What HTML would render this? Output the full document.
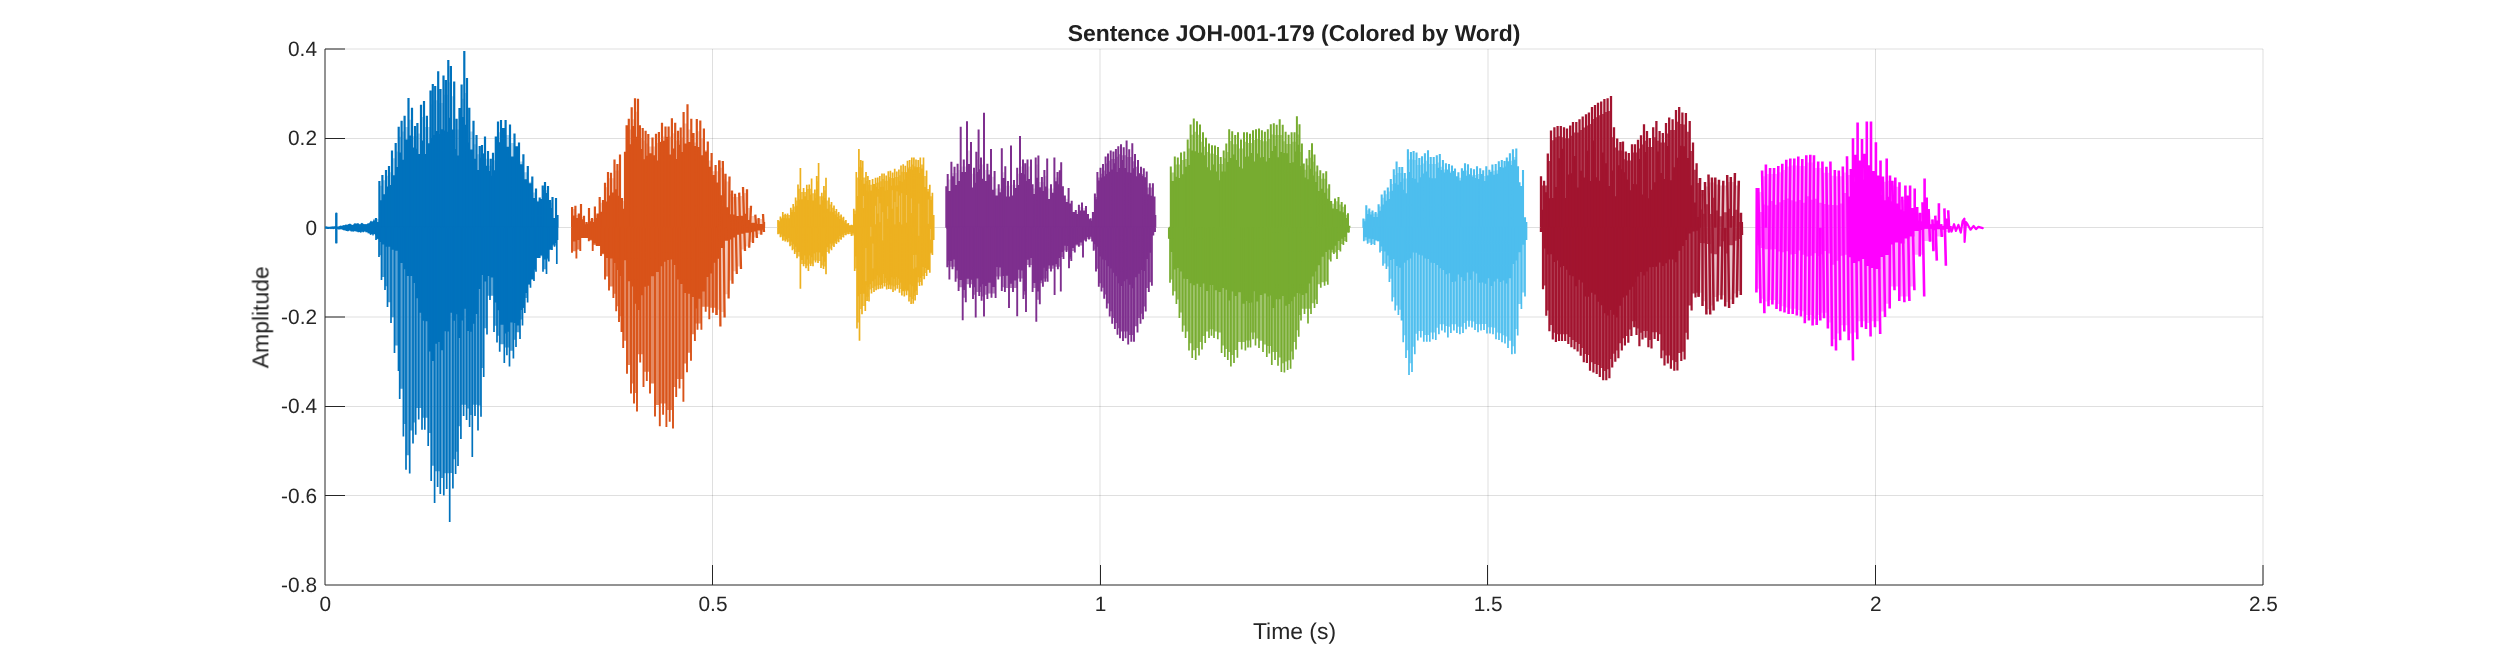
<!DOCTYPE html><html><head><meta charset="utf-8"><title>Sentence JOH-001-179 (Colored by Word)</title><style>html,body{margin:0;padding:0;background:#fff;}svg{display:block;}</style></head><body><svg width="2500" height="657" viewBox="0 0 2500 657">
<rect width="2500" height="657" fill="#fff"/>
<path d="M712.5 49V585M1100 49V585M1488 49V585M1875.5 49V585M2263 49V585M325 49H2263M325 138.5H2263M325 227.5H2263M325 317H2263M325 406.5H2263M325 495.5H2263" stroke="#262626" stroke-opacity="0.15" stroke-width="1" fill="none"/>
<path d="M325 49V585H2263" stroke="#262626" stroke-width="1" fill="none"/>
<path d="M712.5 585V565M1100.5 585V565M1487.5 585V565M1875.5 585V565M2263 585V565M325 49H345M325 138.5H345M325 227.5H345M325 317H345M325 406.5H345M325 495.5H345" stroke="#262626" stroke-width="1" fill="none"/>
<g>
<polygon fill="#0072BD" points="325,226.5 326,226.3 327,226.4 328,226.7 329,226.7 330,226.7 331,226.5 332,226.6 333,226.3 334,226.4 335,226.1 336,226.2 337,226.6 338,226.4 339,226.3 340,225.7 341,225.6 342,226 343,225.1 344,225.3 345,225 346,224.3 347,224.9 348,224.3 349,223.9 350,223.4 351,224.3 352,224.7 353,224.9 354,223.5 355,223.2 356,223.5 357,223.6 358,223.1 359,223.7 360,224.5 361,223.2 362,222.8 363,223.6 364,224.3 365,224 366,224.2 367,223.9 368,222.9 369,223.4 370,221.7 371,220.4 372,221.7 373,221.1 374,218.5 375,221 376,220.4 377,218.5 377,235.5 376,236 375,234.6 374,234 373,236.2 372,234.1 371,235.1 370,234.7 369,233 368,233.7 367,231.8 366,232.8 365,231.3 364,232 363,232.4 362,231.5 361,232.9 360,232.2 359,232.1 358,232.5 357,231.5 356,231.7 355,231.1 354,231.6 353,231.7 352,231.3 351,231.7 350,230.5 349,230.7 348,231.6 347,231 346,230.9 345,230.2 344,230.4 343,230 342,229.6 341,229.3 340,229.4 339,229.4 338,229.4 337,228.8 336,228.9 335,228.7 334,228.9 333,229.3 332,228.8 331,229.2 330,228.7 329,229 328,229 327,228.9 326,228.7 325,228.8"/>
<path d="M336.3 213.6V242.4" stroke="#0072BD" stroke-width="2.4" stroke-linecap="round" fill="none"/>
<g><polygon fill="#0072BD" fill-opacity="0.3" points="376,227.7 376,219 379.4,219 379.4,185.7 382.4,185.7 382.4,180.3 386,180.3 386,175.8 389,175.8 389,172.2 392,172.2 392,158.2 395.7,158.2 395.7,151.5 398.7,151.5 398.7,136.8 401.6,136.8 401.6,131.5 404.6,131.5 404.6,126.9 408.5,126.9 408.5,119.7 412,119.7 412,136.2 415,136.2 415,136.2 417.4,136.2 417.4,133.5 421,133.5 421,117 424,117 424,126.9 426.9,126.9 426.9,126.9 430.5,126.9 430.5,104.2 432.8,104.2 432.8,100.2 435.2,100.2 435.2,100.2 438.2,100.2 438.2,102.9 440.5,102.9 440.5,102.9 443.5,102.9 443.5,94.8 445.9,94.8 445.9,94.8 448.3,94.8 448.3,82.2 450.9,82.2 450.9,96.2 454.2,96.2 454.2,129.6 456.6,129.6 456.6,129.6 459.5,129.6 459.5,120 461.6,120 461.6,98.8 464.3,98.8 464.3,93 467,93 467,119.7 469.3,119.7 469.3,131.5 473.5,131.5 473.5,144.3 476.5,144.3 476.5,154.2 479.7,154.2 479.7,154.2 482,154.2 482,153.3 485,153.3 485,158.7 488,158.7 488,165.7 490.7,165.7 490.7,165.7 493,165.7 493,160.3 495.8,160.3 495.8,145.6 498,145.6 498,132.2 501,132.2 501,130.8 505.6,130.8 505.6,134.9 510,134.9 510,142.9 514.5,142.9 514.5,150.9 519,150.9 519,161.6 523.4,161.6 523.4,172.2 527.8,172.2 527.8,181.7 532.3,181.7 532.3,192.4 536,192.4 536,200.4 539.7,200.4 539.7,200.4 542.7,200.4 542.7,189.7 545,189.7 545,190.2 548,190.2 548,202.8 550,202.8 550,202.8 552.5,202.8 552.5,219 554.6,219 554.6,219 556,219 556,216.3 557.5,216.3 557.5,227.7"/><polygon fill="#0072BD" points="376,228.7 376,222.1 379.4,222.1 379.4,200.3 382.4,200.3 382.4,194.3 386,194.3 386,186.5 389,186.5 389,185.1 392,185.1 392,175.2 395.7,175.2 395.7,167 398.7,167 398.7,152.6 401.6,152.6 401.6,159.8 404.6,159.8 404.6,139.6 408.5,139.6 408.5,135.5 412,135.5 412,147.6 415,147.6 415,148.8 417.4,148.8 417.4,153.9 421,153.9 421,140.6 424,140.6 424,154.1 426.9,154.1 426.9,143.2 430.5,143.2 430.5,138.1 432.8,138.1 432.8,134.9 435.2,134.9 435.2,131 438.2,131 438.2,134 440.5,134 440.5,129.3 443.5,129.3 443.5,130.4 445.9,130.4 445.9,131.7 448.3,131.7 448.3,117.8 450.9,117.8 450.9,129.5 454.2,129.5 454.2,149 456.6,149 456.6,155.6 459.5,155.6 459.5,129.6 461.6,129.6 461.6,117 464.3,117 464.3,124.7 467,124.7 467,142.6 469.3,142.6 469.3,149.5 473.5,149.5 473.5,158.7 476.5,158.7 476.5,170.1 479.7,170.1 479.7,157.8 482,157.8 482,153.5 485,153.5 485,165.8 488,165.8 488,170.9 490.7,170.9 490.7,175.8 493,175.8 493,170.2 495.8,170.2 495.8,152.8 498,152.8 498,142.2 501,142.2 501,128 505.6,128 505.6,146.7 510,146.7 510,156.4 514.5,156.4 514.5,146.3 519,146.3 519,164.2 523.4,164.2 523.4,179.2 527.8,179.2 527.8,183.2 532.3,183.2 532.3,197.9 536,197.9 536,201.4 539.7,201.4 539.7,198.9 542.7,198.9 542.7,190 545,190 545,193.1 548,193.1 548,207.8 550,207.8 550,207.9 552.5,207.9 552.5,221.4 554.6,221.4 554.6,220.5 556,220.5 556,219 557.5,219 557.5,228.7"/><path fill="none" stroke="#0072BD" stroke-width="2.2" d="M376 227.7V218M379.4 227.7V181M382.4 227.7V175M386 227.7V170M389 227.7V166M392 227.7V150.5M395.7 227.7V143M398.7 227.7V126.7M401.6 227.7V120.8M404.6 227.7V115.7M408.5 227.7V97.9M412 227.7V107.7M415 227.7V126M417.4 227.7V123M421 227.7V104.7M424 227.7V100.9M426.9 227.7V115.7M430.5 227.7V90.5M432.8 227.7V84M435.2 227.7V86M438.2 227.7V71.2M440.5 227.7V89M443.5 227.7V75.6M445.9 227.7V80M448.3 227.7V59.9M450.9 227.7V66M454.2 227.7V81.6M456.6 227.7V118.7M459.5 227.7V108M461.6 227.7V84.5M464.3 227.7V51M467 227.7V78M469.3 227.7V107.7M473.5 227.7V120.8M476.5 227.7V135M479.7 227.7V146M482 227.7V145M485 227.7V136.5M488 227.7V151M490.7 227.7V158.8M493 227.7V152.8M495.8 227.7V136.5M498 227.7V121.6M501 227.7V120M505.6 227.7V120M510 227.7V124.6M514.5 227.7V133.5M519 227.7V142.4M523.4 227.7V154.3M527.8 227.7V166M532.3 227.7V176.6M536 227.7V188.5M539.7 227.7V197.4M542.7 227.7V185.5M545 227.7V182M548 227.7V186M550 227.7V200M552.5 227.7V197M554.6 227.7V218M556 227.7V198M557.5 227.7V215"/><polygon fill="#0072BD" fill-opacity="0.66" points="376,227.7 376,239.3 379,239.3 379,255.2 381.5,255.2 381.5,276.9 385,276.9 385,286.3 387.5,286.3 387.5,302.2 391,302.2 391,317.3 394.5,317.3 394.5,345.5 398.5,345.5 398.5,362.4 399.7,362.4 399.7,388.7 403.4,388.7 403.4,424.1 406,424.1 406,455.2 409.7,455.2 409.7,430.6 413,430.6 413,422.4 415.7,422.4 415.7,408 418.7,408 418.7,408 422,408 422,417.7 424.8,417.7 424.8,417.7 428.2,417.7 428.2,432.9 431.2,432.9 431.2,465.8 434.6,465.8 434.6,471.3 437.6,471.3 437.6,471.3 440.3,471.3 440.3,478 443.8,478 443.8,473.3 446.7,473.3 446.7,473.3 449.7,473.3 449.7,472.9 452.9,472.9 452.9,459.2 455.6,459.2 455.6,451.7 458,451.7 458,426.3 460.9,426.3 460.9,404.7 463.6,404.7 463.6,404.7 466.6,404.7 466.6,408.5 469.6,408.5 469.6,415 472.3,415 472.3,404.7 475,404.7 475,404.7 478,404.7 478,405.5 481,405.5 481,368 483.7,368 483.7,328.2 487,328.2 487,295.7 490,295.7 490,295.7 494,295.7 494,325.7 497,325.7 497,335.7 499.7,335.7 499.7,344.3 504.3,344.3 504.3,347.6 506.9,347.6 506.9,347.6 509.5,347.6 509.5,350.7 513.4,350.7 513.4,339.8 516,339.8 516,332.3 520,332.3 520,319.6 522.5,319.6 522.5,307.9 524.8,307.9 524.8,298.1 527.6,298.1 527.6,284.2 530.5,284.2 530.5,277.8 534,277.8 534,269.2 536,269.2 536,256.2 539.7,256.2 539.7,256.2 543,256.2 543,269.2 546.5,269.2 546.5,259.5 548.8,259.5 548.8,248.7 552,248.7 552,245.6 554.5,245.6 554.5,245.6 556.8,245.6 556.8,239.3 557.5,239.3 557.5,227.7"/><polygon fill="#0072BD" points="376,226.7 376,238.7 379,238.7 379,242 381.5,242 381.5,244.5 385,244.5 385,246.7 387.5,246.7 387.5,246.7 391,246.7 391,249.7 394.5,249.7 394.5,250.7 398.5,250.7 398.5,253.9 399.7,253.9 399.7,262.9 403.4,262.9 403.4,269.3 406,269.3 406,276.1 409.7,276.1 409.7,276 413,276 413,283.1 415.7,283.1 415.7,298.2 418.7,298.2 418.7,312.8 422,312.8 422,320.7 424.8,320.7 424.8,321.3 428.2,321.3 428.2,351.6 431.2,351.6 431.2,361 434.6,361 434.6,343.7 437.6,343.7 437.6,341.9 440.3,341.9 440.3,350.3 443.8,350.3 443.8,331.3 446.7,331.3 446.7,331.6 449.7,331.6 449.7,312.7 452.9,312.7 452.9,320.7 455.6,320.7 455.6,314.3 458,314.3 458,338.1 460.9,338.1 460.9,320.6 463.6,320.6 463.6,308.7 466.6,308.7 466.6,331.1 469.6,331.1 469.6,331.8 472.3,331.8 472.3,323.8 475,323.8 475,313.9 478,313.9 478,289.1 481,289.1 481,275 483.7,275 483.7,281.6 487,281.6 487,276.1 490,276.1 490,277.5 494,277.5 494,302.6 497,302.6 497,310.3 499.7,310.3 499.7,324.8 504.3,324.8 504.3,333.5 506.9,333.5 506.9,331.7 509.5,331.7 509.5,322.6 513.4,322.6 513.4,323 516,323 516,325.5 520,325.5 520,310.1 522.5,310.1 522.5,307.8 524.8,307.8 524.8,293 527.6,293 527.6,284.6 530.5,284.6 530.5,279.6 534,279.6 534,269.4 536,269.4 536,258 539.7,258 539.7,255 543,255 543,259.5 546.5,259.5 546.5,258.2 548.8,258.2 548.8,249.8 552,249.8 552,244.5 554.5,244.5 554.5,242.9 556.8,242.9 556.8,240 557.5,240 557.5,226.7"/><path fill="none" stroke="#0072BD" stroke-width="1.7" d="M376 227.7V240M379 227.7V257M381.5 227.7V280M385 227.7V290M387.5 227.7V307M391 227.7V323M394.5 227.7V353M398.5 227.7V371M399.7 227.7V399M403.4 227.7V436.6M406 227.7V469.7M409.7 227.7V473.6M413 227.7V443.5M415.7 227.7V434.8M418.7 227.7V419.5M422 227.7V429.8M424.8 227.7V429.8M428.2 227.7V446M431.2 227.7V481M434.6 227.7V503M437.6 227.7V486.9M440.3 227.7V494M443.8 227.7V495.5M446.7 227.7V489M449.7 227.7V522M452.9 227.7V488.5M455.6 227.7V474M458 227.7V466M460.9 227.7V439M463.6 227.7V416M466.6 227.7V420M469.6 227.7V427M472.3 227.7V457M475 227.7V416M478 227.7V430.5M481 227.7V416.8M483.7 227.7V377M487 227.7V334.6M490 227.7V300M494 227.7V332M497 227.7V342.6M499.7 227.7V351.7M504.3 227.7V363M506.9 227.7V355.2M509.5 227.7V366.5M513.4 227.7V358.6M516 227.7V347M520 227.7V339M522.5 227.7V325.5M524.8 227.7V313M527.6 227.7V302.6M530.5 227.7V287.8M534 227.7V281M536 227.7V271.8M539.7 227.7V258M543 227.7V271.8M546.5 227.7V274M548.8 227.7V261.5M552 227.7V250M554.5 227.7V246.7M556.8 227.7V264M557.5 227.7V240"/></g>
<g><polygon fill="#D95319" fill-opacity="0.3" points="572.1,227.7 572.1,209.1 575.4,209.1 575.4,215 578.8,215 578.8,215 581,215 581,217 584,217 584,222.6 586.5,222.6 586.5,222.6 589,222.6 589,219 592,219 592,219 594.9,219 594.9,215 597.5,215 597.5,215 599.7,215 599.7,202.8 603,202.8 603,202.8 605,202.8 605,187.2 608,187.2 608,178.2 611,178.2 611,178.2 614.5,178.2 614.5,170.4 617.4,170.4 617.4,170.4 620,170.4 620,201 622,201 622,201 625,201 625,159.4 626.6,159.4 626.6,135.5 628.8,135.5 628.8,129.6 631.7,129.6 631.7,119.2 635,119.2 635,111.7 638,111.7 638,135.5 639.9,135.5 639.9,138 642.7,138 642.7,140.5 645.6,140.5 645.6,143.4 648.3,143.4 648.3,146.4 652.5,146.4 652.5,146.4 656,146.4 656,143.1 658.9,143.1 658.9,141.6 662,141.6 662,136.5 665.5,136.5 665.5,136.5 668.6,136.5 668.6,136.5 671.9,136.5 671.9,133.2 675.2,133.2 675.2,140.5 678,140.5 678,140.5 680.7,140.5 680.7,137.5 683.6,137.5 683.6,123.6 687.5,123.6 687.5,129.6 691.3,129.6 691.3,142.5 693.5,142.5 693.5,142.5 696.8,142.5 696.8,131.2 700.3,131.2 700.3,138.5 703.9,138.5 703.9,150 707.8,150 707.8,160.4 711.6,160.4 711.6,171.3 715.6,171.3 715.6,171.3 719.3,171.3 719.3,227.7"/><polygon fill="#D95319" points="572.1,228.7 572.1,215.4 575.4,215.4 575.4,218 578.8,218 578.8,217.8 581,217.8 581,219.2 584,219.2 584,224.3 586.5,224.3 586.5,223.8 589,223.8 589,221.3 592,221.3 592,222.1 594.9,222.1 594.9,218 597.5,218 597.5,217.9 599.7,217.9 599.7,211.8 603,211.8 603,209 605,209 605,201.5 608,201.5 608,195.6 611,195.6 611,192.5 614.5,192.5 614.5,189.2 617.4,189.2 617.4,195.8 620,195.8 620,212 622,212 622,208.8 625,208.8 625,170.3 626.6,170.3 626.6,151.8 628.8,151.8 628.8,144.3 631.7,144.3 631.7,125.9 635,125.9 635,136.7 638,136.7 638,144.6 639.9,144.6 639.9,149 642.7,149 642.7,159.3 645.6,159.3 645.6,155.8 648.3,155.8 648.3,153.2 652.5,153.2 652.5,155.2 656,155.2 656,160.5 658.9,160.5 658.9,141.9 662,141.9 662,140.8 665.5,140.8 665.5,137.1 668.6,137.1 668.6,154.5 671.9,154.5 671.9,148.5 675.2,148.5 675.2,158.9 678,158.9 678,144.7 680.7,144.7 680.7,152 683.6,152 683.6,143.5 687.5,143.5 687.5,142.1 691.3,142.1 691.3,144.1 693.5,144.1 693.5,145.9 696.8,145.9 696.8,147 700.3,147 700.3,155.2 703.9,155.2 703.9,151.4 707.8,151.4 707.8,166.7 711.6,166.7 711.6,175 715.6,175 715.6,182.6 719.3,182.6 719.3,228.7"/><path fill="none" stroke="#D95319" stroke-width="2.2" d="M572.1 227.7V207M575.4 227.7V205.8M578.8 227.7V213.6M581 227.7V204M584 227.7V215.8M586.5 227.7V222M589 227.7V208M592 227.7V218M594.9 227.7V206.5M597.5 227.7V213.6M599.7 227.7V197M603 227.7V200M605 227.7V182.7M608 227.7V172M611 227.7V172.7M614.5 227.7V159.5M617.4 227.7V164M620 227.7V154.4M622 227.7V198M625 227.7V151.8M626.6 227.7V125.3M628.8 227.7V118.7M631.7 227.7V107.2M635 227.7V98.2M638 227.7V98.8M639.9 227.7V125.3M642.7 227.7V128M645.6 227.7V130.8M648.3 227.7V134M652.5 227.7V137.4M656 227.7V133.7M658.9 227.7V132M662 227.7V122.7M665.5 227.7V126.4M668.6 227.7V126.4M671.9 227.7V118.2M675.2 227.7V122.7M678 227.7V130.8M680.7 227.7V127.5M683.6 227.7V112M687.5 227.7V104.3M691.3 227.7V118.7M693.5 227.7V133M696.8 227.7V119M700.3 227.7V120.5M703.9 227.7V128.6M707.8 227.7V141.4M711.6 227.7V152.9M715.6 227.7V165M719.3 227.7V160.6"/><polygon fill="#D95319" fill-opacity="0.68" points="572,227.7 572,251.2 576.4,251.2 576.4,249.6 580.3,249.6 580.3,237.4 584.5,237.4 584.5,237.4 588.8,237.4 588.8,240.5 592.7,240.5 592.7,244.9 596.7,244.9 596.7,244.9 601,244.9 601,254.3 605,254.3 605,276.5 609,276.5 609,286.6 613.4,286.6 613.4,293.8 616.2,293.8 616.2,306.2 619,306.2 619,316.3 621.5,316.3 621.5,257.1 622.3,257.1 622.3,257.1 623.2,257.1 623.2,340.8 627,340.8 627,365 631,365 631,383.6 634,383.6 634,392.9 637,392.9 637,354.3 640.2,354.3 640.2,354.3 643.5,354.3 643.5,371.7 646.8,371.7 646.8,371.7 650,371.7 650,383.6 655,383.6 655,405.1 659.8,405.1 659.8,403.6 663.1,403.6 663.1,403.6 666.4,403.6 666.4,410 669.7,410 669.7,410 673,410 673,386.9 676.2,386.9 676.2,378.9 679.5,378.9 679.5,378.9 683.4,378.9 683.4,363.5 687,363.5 687,352.8 691,352.8 691,334.2 694.9,334.2 694.9,323.6 697.5,323.6 697.5,323.6 701.4,323.6 701.4,306.7 705.7,306.7 705.7,306.7 709.3,306.7 709.3,307.7 712.9,307.7 712.9,307.7 716.5,307.7 716.5,227.7"/><polygon fill="#D95319" points="572,226.7 572,241.5 576.4,241.5 576.4,239.9 580.3,239.9 580.3,238 584.5,238 584.5,238 588.8,238 588.8,239.8 592.7,239.8 592.7,243.6 596.7,243.6 596.7,246 601,246 601,253.5 605,253.5 605,258 609,258 609,258.5 613.4,258.5 613.4,262.9 616.2,262.9 616.2,269.9 619,269.9 619,276.1 621.5,276.1 621.5,258.5 622.3,258.5 622.3,257.7 623.2,257.7 623.2,260.2 627,260.2 627,281.3 631,281.3 631,286.6 634,286.6 634,303.7 637,303.7 637,309.9 640.2,309.9 640.2,295.2 643.5,295.2 643.5,286.8 646.8,286.8 646.8,285.7 650,285.7 650,276.2 655,276.2 655,272 659.8,272 659.8,266.3 663.1,266.3 663.1,261.7 666.4,261.7 666.4,260 669.7,260 669.7,259.5 673,259.5 673,265.1 676.2,265.1 676.2,279.4 679.5,279.4 679.5,283.9 683.4,283.9 683.4,293 687,293 687,293.7 691,293.7 691,297.1 694.9,297.1 694.9,308.6 697.5,308.6 697.5,298.8 701.4,298.8 701.4,291.5 705.7,291.5 705.7,277.1 709.3,277.1 709.3,273.4 712.9,273.4 712.9,262.7 716.5,262.7 716.5,226.7"/><path fill="none" stroke="#D95319" stroke-width="1.9" d="M572 227.7V252.7M576.4 227.7V258.6M580.3 227.7V251M584.5 227.7V238M588.8 227.7V241.3M592.7 227.7V251M596.7 227.7V246M601 227.7V256M605 227.7V279.6M609 227.7V290.4M613.4 227.7V298M616.2 227.7V311.2M619 227.7V322M621.5 227.7V332M622.3 227.7V259M623.2 227.7V348M627 227.7V373.8M631 227.7V393.5M634 227.7V403.5M637 227.7V411.5M640.2 227.7V362.4M643.5 227.7V387M646.8 227.7V380.9M650 227.7V393.5M655 227.7V416.4M659.8 227.7V426.2M663.1 227.7V414.8M666.4 227.7V426.9M669.7 227.7V421.7M673 227.7V428.5M676.2 227.7V397.1M679.5 227.7V388.6M683.4 227.7V401.7M687 227.7V372.2M691 227.7V360.8M694.9 227.7V341M697.5 227.7V329.7M701.4 227.7V329.7M705.7 227.7V311.7M709.3 227.7V319.2M712.9 227.7V312.8M716.5 227.7V315"/><polygon fill="#D95319" fill-opacity="0.3" points="719.3,227.7 719.3,167.7 722.8,167.7 722.8,179.2 725.5,179.2 725.5,181.6 729.5,181.6 729.5,194.1 732,194.1 732,197.1 735,197.1 735,197.1 739.2,197.1 739.2,196.1 743,196.1 743,193.1 747,193.1 747,208 751,208 751,216 755.3,216 755.3,219 758.6,219 758.6,219 763,219 763,222.6 764,222.6 764,227.7"/><polygon fill="#D95319" points="719.3,228.7 719.3,195.3 722.8,195.3 722.8,206.1 725.5,206.1 725.5,207.2 729.5,207.2 729.5,214.3 732,214.3 732,214.6 735,214.6 735,215.9 739.2,215.9 739.2,215.8 743,215.8 743,213.8 747,213.8 747,220 751,220 751,222.8 755.3,222.8 755.3,224.1 758.6,224.1 758.6,224 763,224 763,225.6 764,225.6 764,228.7"/><polygon fill="#D95319" fill-opacity="0.3" points="716.5,227.7 716.5,309.8 720.4,309.8 720.4,312.1 724.6,312.1 724.6,294.3 728.6,294.3 728.6,280.4 732.5,280.4 732.5,271.2 736.8,271.2 736.8,266.5 741,266.5 741,249.6 745,249.6 745,246.6 749.2,246.6 749.2,242.1 753,242.1 753,237.4 757,237.4 757,234.3 761.3,234.3 761.3,231.7 764,231.7 764,227.7"/><polygon fill="#D95319" points="716.5,226.7 716.5,258.7 720.4,258.7 720.4,248 724.6,248 724.6,240.7 728.6,240.7 728.6,239.4 732.5,239.4 732.5,237.5 736.8,237.5 736.8,234.8 741,234.8 741,233.8 745,233.8 745,232.7 749.2,232.7 749.2,232.2 753,232.2 753,231.4 757,231.4 757,230.6 761.3,230.6 761.3,229.8 764,229.8 764,226.7"/><path fill="none" stroke="#D95319" stroke-width="2.3" d="M719.3 160.6L720.4 326.4M722.8 161L724.6 317.5M725.5 227.7V173.8M729.5 176.5L728.6 298.6M732 190.4L732.5 283.8M735 193.7L736.8 274M739.2 192.6L741 269M743 187L745 251M747 227.7V189.3M751 205.8L749.2 247.8M755.3 214.7L757 238M758.6 227.7V218M763 214L764 232M764 227.7V222M716.5 227.7V315M753 227.7V243M761.3 227.7V234.7"/></g>
<g><polygon fill="#EDB120" fill-opacity="0.75" points="778,227.7 778,220.8 780.4,220.8 780.4,217.7 782.8,217.7 782.8,215.1 785.2,215.1 785.2,215.1 787.6,215.1 787.6,214.9 790.8,214.9 790.8,209.8 793.2,209.8 793.2,206.5 795.6,206.5 795.6,200.5 798,200.5 798,188.8 800.4,188.8 800.4,192 803.6,192 803.6,192 806.8,192 806.8,189.1 809.2,189.1 809.2,188.7 811.6,188.7 811.6,193.3 814.8,193.3 814.8,193.3 816.7,193.3 816.7,181.2 818.6,181.2 818.6,196.2 821.8,196.2 821.8,196.2 823.9,196.2 823.9,190.2 826,190.2 826,200.5 829,200.5 829,204.4 831.5,204.4 831.5,207.7 834,207.7 834,210.9 836.4,210.9 836.4,213.6 838.7,213.6 838.7,215.8 841.1,215.8 841.1,217.8 843.5,217.8 843.5,220.8 845.9,220.8 845.9,223.5 848.3,223.5 848.3,225 851.5,225 851.5,225 853.8,225 853.8,210.6 856.3,210.6 856.3,177.6 858.9,177.6 858.9,166.7 860.8,166.7 860.8,167.5 862.7,167.5 862.7,177.6 866,177.6 866,181.1 867.9,181.1 867.9,184.8 869.7,184.8 869.7,184.8 872.6,184.8 872.6,183.9 875.5,183.9 875.5,182.7 877.7,182.7 877.7,182.6 879.8,182.6 879.8,181.3 882,181.3 882,179 884.1,179 884.1,180.8 886.2,180.8 886.2,180.8 888.3,180.8 888.3,176.9 890.4,176.9 890.4,177.9 892.6,177.9 892.6,177.9 894.7,177.9 894.7,177.1 896.8,177.1 896.8,177.1 898.9,177.1 898.9,175.3 901,175.3 901,171.8 903.2,171.8 903.2,172 905.3,172 905.3,172 907.5,172 907.5,167.5 909.6,167.5 909.6,166.7 911.8,166.7 911.8,164.6 913.9,164.6 913.9,166.2 916,166.2 916,166.9 918.2,166.9 918.2,166.9 920.3,166.9 920.3,164.6 923.5,164.6 923.5,176.1 926.6,176.1 926.6,189.1 929.8,189.1 929.8,196.2 932.4,196.2 932.4,216.3 933.7,216.3 933.7,227.7"/><polygon fill="#EDB120" points="778,228.7 778,221.8 780.4,221.8 780.4,218.9 782.8,218.9 782.8,217.9 785.2,217.9 785.2,218.3 787.6,218.3 787.6,218.3 790.8,218.3 790.8,212 793.2,212 793.2,212.1 795.6,212.1 795.6,205.8 798,205.8 798,199.6 800.4,199.6 800.4,199.3 803.6,199.3 803.6,196.3 806.8,196.3 806.8,199.9 809.2,199.9 809.2,194.4 811.6,194.4 811.6,200.4 814.8,200.4 814.8,197.9 816.7,197.9 816.7,189 818.6,189 818.6,204.4 821.8,204.4 821.8,200.3 823.9,200.3 823.9,198.1 826,198.1 826,208.7 829,208.7 829,211.6 831.5,211.6 831.5,211.9 834,211.9 834,214.6 836.4,214.6 836.4,217.1 838.7,217.1 838.7,219.1 841.1,219.1 841.1,220.2 843.5,220.2 843.5,222.5 845.9,222.5 845.9,224.1 848.3,224.1 848.3,225.8 851.5,225.8 851.5,225.5 853.8,225.5 853.8,214 856.3,214 856.3,196 858.9,196 858.9,179 860.8,179 860.8,179.9 862.7,179.9 862.7,183.8 866,183.8 866,190.6 867.9,190.6 867.9,191.5 869.7,191.5 869.7,190.5 872.6,190.5 872.6,183.9 875.5,183.9 875.5,186.8 877.7,186.8 877.7,189 879.8,189 879.8,187.1 882,187.1 882,186.8 884.1,186.8 884.1,190.6 886.2,190.6 886.2,190.1 888.3,190.1 888.3,178.8 890.4,178.8 890.4,185.7 892.6,185.7 892.6,178.6 894.7,178.6 894.7,185.5 896.8,185.5 896.8,185.3 898.9,185.3 898.9,180.9 901,180.9 901,181.8 903.2,181.8 903.2,179.6 905.3,179.6 905.3,172.5 907.5,172.5 907.5,169 909.6,169 909.6,169.3 911.8,169.3 911.8,169.7 913.9,169.7 913.9,167.4 916,167.4 916,167.6 918.2,167.6 918.2,172.9 920.3,172.9 920.3,168.5 923.5,168.5 923.5,186.9 926.6,186.9 926.6,191.4 929.8,191.4 929.8,200 932.4,200 932.4,216.9 933.7,216.9 933.7,228.7"/><path fill="none" stroke="#EDB120" stroke-width="1.7" d="M778 227.7V220M780.4 227.7V216.6M782.8 227.7V212M785.2 227.7V213.8M787.6 227.7V213.5M790.8 227.7V207.8M793.2 227.7V204.1M795.6 227.7V197.5M798 227.7V184.4M800.4 227.7V168M803.6 227.7V188M806.8 227.7V184.8M809.2 227.7V184.4M811.6 227.7V178.4M814.8 227.7V189.5M816.7 227.7V176M818.6 227.7V163M821.8 227.7V192.7M823.9 227.7V186M826 227.7V177.7M829 227.7V197.5M831.5 227.7V201.9M834 227.7V205.5M836.4 227.7V209M838.7 227.7V212M841.1 227.7V214.5M843.5 227.7V216.7M845.9 227.7V220.1M848.3 227.7V223M851.5 227.7V224.7M853.8 227.7V208.7M856.3 227.7V172M858.9 227.7V149M860.8 227.7V160M862.7 227.7V160.8M866 227.7V172M867.9 227.7V175.9M869.7 227.7V180M872.6 227.7V179M875.5 227.7V177.7M877.7 227.7V177.6M879.8 227.7V176.1M882 227.7V173.6M884.1 227.7V173.4M886.2 227.7V175.6M888.3 227.7V171.3M890.4 227.7V170.7M892.6 227.7V172.4M894.7 227.7V168.8M896.8 227.7V171.5M898.9 227.7V169.5M901 227.7V165.6M903.2 227.7V164.3M905.3 227.7V165.8M907.5 227.7V160.8M909.6 227.7V160M911.8 227.7V157.4M913.9 227.7V157.6M916 227.7V159.4M918.2 227.7V160.1M920.3 227.7V157.6M923.5 227.7V157.6M926.6 227.7V170.4M929.8 227.7V184.8M932.4 227.7V192.7M933.7 227.7V215"/><polygon fill="#EDB120" fill-opacity="0.75" points="778,227.7 778,233.9 780.4,233.9 780.4,236.7 782.8,236.7 782.8,239.9 785.2,239.9 785.2,240.6 787.6,240.6 787.6,241.4 790,241.4 790,245.2 792.4,245.2 792.4,248.9 794.7,248.9 794.7,252.3 797,252.3 797,256.5 800.4,256.5 800.4,264 803.6,264 803.6,264 806,264 806,265.7 808.4,265.7 808.4,263.8 810.7,263.8 810.7,263.8 813,263.8 813,260.5 815.5,260.5 815.5,260.5 818,260.5 818,260.9 821,260.9 821,265.5 823.5,265.5 823.5,266.6 826,266.6 826,252 829,252 829,248.8 831.5,248.8 831.5,245.8 834,245.8 834,243 836.4,243 836.4,241.4 838.7,241.4 838.7,239 841.1,239 841.1,236.9 843.5,236.9 843.5,234.9 845.9,234.9 845.9,233.9 848.3,233.9 848.3,233.9 851.5,233.9 851.5,235.5 854.7,235.5 854.7,268.4 857,268.4 857,322.5 859.5,322.5 859.5,309 862,309 862,306 865.3,306 865.3,296.7 867.1,296.7 867.1,296.7 869,296.7 869,289.5 871.5,289.5 871.5,288 874,288 874,286.5 876.1,286.5 876.1,285.6 878.2,285.6 878.2,285 880.3,285 880.3,284.8 882.4,284.8 882.4,283.1 884.6,283.1 884.6,283.1 886.7,283.1 886.7,285.2 888.8,285.2 888.8,285.2 890.9,285.2 890.9,285.6 893,285.6 893,286.6 895.2,286.6 895.2,285 897.3,285 897.3,285 899.5,285 899.5,288.9 901.9,288.9 901.9,291.3 904.3,291.3 904.3,291.2 906.6,291.2 906.6,291.2 909,291.2 909,297 911.1,297 911.1,299.1 913.2,299.1 913.2,296 915.1,296 915.1,291 917,291 917,282.5 919.5,282.5 919.5,282 921.9,282 921.9,276.1 924.2,276.1 924.2,273 926.6,273 926.6,270 929.8,270 929.8,253.4 932.4,253.4 932.4,239.3 933.7,239.3 933.7,227.7"/><polygon fill="#EDB120" points="778,226.7 778,232.9 780.4,232.9 780.4,234.6 782.8,234.6 782.8,236.6 785.2,236.6 785.2,239 787.6,239 787.6,237.9 790,237.9 790,241.7 792.4,241.7 792.4,244.3 794.7,244.3 794.7,246.8 797,246.8 797,252.1 800.4,252.1 800.4,260 803.6,260 803.6,255.6 806,255.6 806,259.5 808.4,259.5 808.4,255.6 810.7,255.6 810.7,257.2 813,257.2 813,253.6 815.5,253.6 815.5,252.3 818,252.3 818,252.6 821,252.6 821,256.4 823.5,256.4 823.5,261.8 826,261.8 826,247.3 829,247.3 829,243.8 831.5,243.8 831.5,243.6 834,243.6 834,241.3 836.4,241.3 836.4,238.7 838.7,238.7 838.7,236.1 841.1,236.1 841.1,234.7 843.5,234.7 843.5,233 845.9,233 845.9,232.5 848.3,232.5 848.3,232.3 851.5,232.3 851.5,233.5 854.7,233.5 854.7,256.4 857,256.4 857,296.2 859.5,296.2 859.5,294 862,294 862,293.8 865.3,293.8 865.3,285 867.1,285 867.1,287.1 869,287.1 869,284.2 871.5,284.2 871.5,281.2 874,281.2 874,279.3 876.1,279.3 876.1,275.5 878.2,275.5 878.2,277.4 880.3,277.4 880.3,284.7 882.4,284.7 882.4,274.1 884.6,274.1 884.6,278.1 886.7,278.1 886.7,281.4 888.8,281.4 888.8,284 890.9,284 890.9,277.3 893,277.3 893,278.7 895.2,278.7 895.2,277.1 897.3,277.1 897.3,278.7 899.5,278.7 899.5,282.7 901.9,282.7 901.9,291.1 904.3,291.1 904.3,289.7 906.6,289.7 906.6,290 909,290 909,284.4 911.1,284.4 911.1,286.3 913.2,286.3 913.2,292.6 915.1,292.6 915.1,290 917,290 917,277.2 919.5,277.2 919.5,278 921.9,278 921.9,267.1 924.2,267.1 924.2,268 926.6,268 926.6,269.6 929.8,269.6 929.8,252.6 932.4,252.6 932.4,239 933.7,239 933.7,226.7"/><path fill="none" stroke="#EDB120" stroke-width="1.7" d="M778 227.7V234.3M780.4 227.7V237.2M782.8 227.7V240.7M785.2 227.7V241.4M787.6 227.7V242.3M790 227.7V246.3M792.4 227.7V250.3M794.7 227.7V253.9M797 227.7V258.3M800.4 227.7V288.7M803.6 227.7V266.3M806 227.7V268.2M808.4 227.7V271M810.7 227.7V266.1M813 227.7V266.3M815.5 227.7V262.6M818 227.7V263M821 227.7V267.9M823.5 227.7V269.1M826 227.7V274.3M829 227.7V253.5M831.5 227.7V250.2M834 227.7V247M836.4 227.7V243.9M838.7 227.7V242.3M841.1 227.7V239.7M843.5 227.7V237.5M845.9 227.7V235.3M848.3 227.7V234.3M851.5 227.7V236M854.7 227.7V271M857 227.7V328.6M859.5 227.7V340.8M862 227.7V314.2M865.3 227.7V311M867.1 227.7V301.1M869 227.7V301.4M871.5 227.7V293.5M874 227.7V291.9M876.1 227.7V290.2M878.2 227.7V289.3M880.3 227.7V288.7M882.4 227.7V288.4M884.6 227.7V286.6M886.7 227.7V289.6M888.8 227.7V288.9M890.9 227.7V289.3M893 227.7V291.9M895.2 227.7V290.4M897.3 227.7V288.7M899.5 227.7V292.8M901.9 227.7V295.4M904.3 227.7V296.6M906.6 227.7V295.3M909 227.7V301.4M911.1 227.7V303.9M913.2 227.7V303.7M915.1 227.7V300.4M917 227.7V295M919.5 227.7V286M921.9 227.7V285.5M924.2 227.7V279.2M926.6 227.7V275.9M929.8 227.7V272.7M932.4 227.7V255M933.7 227.7V240"/><path fill="none" stroke="#fff" stroke-opacity="0.32" stroke-width="0.7" d="M863.4 196V208M865.9 248.1V281.2M870.8 226.8V236.5M872.9 243.6V268.4M875.5 205.8V224.3M877.8 196.7V213.6M879.9 203.3V222.2M882.7 212.1V240.4M887.7 206.3V218.8M892.3 190.2V208.7M894.9 201.9V224.4M897 191.4V206.9M899.5 195.6V222.1M901.7 193.2V224.5M906.5 195V222.7M911.4 198.4V213.1M913.7 255V268.7M915.9 254.8V267.4M918.8 203.6V235.8M928.3 199.5V223.8M930.5 228.9V239.7"/></g>
<g><polygon fill="#7E2F8E" fill-opacity="0.2" points="946.3,227.7 946.3,190.4 947.7,190.4 947.7,179.4 951.4,179.4 951.4,172.9 954.5,172.9 954.5,172.9 957.6,172.9 957.6,170.1 960.7,170.1 960.7,166.4 963.8,166.4 963.8,166.4 967,166.4 967,150.6 971,150.6 971,173.8 974,173.8 974,173.8 976.3,173.8 976.3,159.4 978.6,159.4 978.6,164.6 981,164.6 981,164.6 984,164.6 984,170.1 987.4,170.1 987.4,170.1 991,170.1 991,176.7 994.6,176.7 994.6,188.6 998.7,188.6 998.7,188.6 1001.8,188.6 1001.8,172.3 1005.3,172.3 1005.3,185.7 1008,185.7 1008,185.7 1011,185.7 1011,184.8 1014,184.8 1014,184.8 1017.2,184.8 1017.2,173.8 1020,173.8 1020,166.4 1023,166.4 1023,169.8 1025.2,169.8 1025.2,169.8 1027.5,169.8 1027.5,166.4 1031,166.4 1031,188.6 1032.6,188.6 1032.6,188.6 1035.7,188.6 1035.7,164.6 1038.4,164.6 1038.4,182.1 1041.9,182.1 1041.9,182.1 1044.4,182.1 1044.4,175.7 1047.2,175.7 1047.2,188.6 1051,188.6 1051,188.6 1054.4,188.6 1054.4,177.6 1057.5,177.6 1057.5,177.6 1059.8,177.6 1059.8,176 1061.2,176 1061.2,190.4 1062.9,190.4 1062.9,198.8 1064.9,198.8 1064.9,198.8 1068.6,198.8 1068.6,203.4 1071.7,203.4 1071.7,211.8 1075.8,211.8 1075.8,211.8 1078.9,211.8 1078.9,207.1 1082,207.1 1082,208.1 1086,208.1 1086,215.4 1088,215.4 1088,219.1 1090.6,219.1 1090.6,219.1 1092.9,219.1 1092.9,213.6 1094.9,213.6 1094.9,227.7"/><polygon fill="#7E2F8E" fill-opacity="0.55" points="1094.9,227.7 1094.9,196.9 1097.4,196.9 1097.4,177.6 1100.5,177.6 1100.5,173.8 1103,173.8 1103,170.4 1105.6,170.4 1105.6,163.6 1108,163.6 1108,160.8 1110.7,160.8 1110.7,159 1113.4,159 1113.4,159 1115.9,159 1115.9,156.8 1118.3,156.8 1118.3,154.3 1121,154.3 1121,155.3 1123.7,155.3 1123.7,155.3 1126.6,155.3 1126.6,157.1 1129.2,157.1 1129.2,157.1 1132.3,157.1 1132.3,161.3 1135,161.3 1135,166.8 1138,166.8 1138,172.9 1141,172.9 1141,174.1 1143.8,174.1 1143.8,177.1 1146.7,177.1 1146.7,187.6 1149.8,187.6 1149.8,187.6 1152.9,187.6 1152.9,199.7 1154.5,199.7 1154.5,216.3 1155.3,216.3 1155.3,227.7"/><polygon fill="#7E2F8E" points="946.3,228.7 946.3,192.9 947.7,192.9 947.7,190.9 951.4,190.9 951.4,176.3 954.5,176.3 954.5,185 957.6,185 957.6,181 960.7,181 960.7,172.1 963.8,172.1 963.8,172.1 967,172.1 967,164 971,164 971,187.4 974,187.4 974,182.7 976.3,182.7 976.3,172.1 978.6,172.1 978.6,169.2 981,169.2 981,178.7 984,178.7 984,180.9 987.4,180.9 987.4,174.5 991,174.5 991,189.8 994.6,189.8 994.6,195.6 998.7,195.6 998.7,192.3 1001.8,192.3 1001.8,178.1 1005.3,178.1 1005.3,196.4 1008,196.4 1008,196.4 1011,196.4 1011,195.5 1014,195.5 1014,187.9 1017.2,187.9 1017.2,185.1 1020,185.1 1020,173 1023,173 1023,174.2 1025.2,174.2 1025.2,180.9 1027.5,180.9 1027.5,179.1 1031,179.1 1031,191.2 1032.6,191.2 1032.6,193.9 1035.7,193.9 1035.7,177.8 1038.4,177.8 1038.4,187.3 1041.9,187.3 1041.9,191.1 1044.4,191.1 1044.4,186.4 1047.2,186.4 1047.2,198.9 1051,198.9 1051,192.8 1054.4,192.8 1054.4,181.2 1057.5,181.2 1057.5,184.2 1059.8,184.2 1059.8,179.5 1061.2,179.5 1061.2,200 1062.9,200 1062.9,204.4 1064.9,204.4 1064.9,202.1 1068.6,202.1 1068.6,203.6 1071.7,203.6 1071.7,211.9 1075.8,211.9 1075.8,213.9 1078.9,213.9 1078.9,210.5 1082,210.5 1082,210.5 1086,210.5 1086,216.7 1088,216.7 1088,219.3 1090.6,219.3 1090.6,220.7 1092.9,220.7 1092.9,214.3 1094.9,214.3 1094.9,199.2 1097.4,199.2 1097.4,180.6 1100.5,180.6 1100.5,177.5 1103,177.5 1103,176.3 1105.6,176.3 1105.6,174.1 1108,174.1 1108,171.8 1110.7,171.8 1110.7,169.6 1113.4,169.6 1113.4,163.3 1115.9,163.3 1115.9,172 1118.3,172 1118.3,168.1 1121,168.1 1121,160.1 1123.7,160.1 1123.7,168 1126.6,168 1126.6,172.2 1129.2,172.2 1129.2,172.7 1132.3,172.7 1132.3,168.3 1135,168.3 1135,176.2 1138,176.2 1138,173.5 1141,173.5 1141,175.8 1143.8,175.8 1143.8,177.4 1146.7,177.4 1146.7,194.2 1149.8,194.2 1149.8,195.8 1152.9,195.8 1152.9,205.3 1154.5,205.3 1154.5,217.5 1155.3,217.5 1155.3,228.7"/><path fill="none" stroke="#7E2F8E" stroke-width="2.0" d="M946.3 227.7V186.3M947.7 227.7V174M951.4 227.7V161.7M954.5 227.7V166.8M957.6 227.7V163.7M960.7 227.7V126.7M963.8 227.7V159.6M967 227.7V121.2M971 227.7V142M974 227.7V167.8M976.3 227.7V151.8M978.6 227.7V129.4M981 227.7V157.6M984 227.7V112.7M987.4 227.7V163.7M991 227.7V149M994.6 227.7V171M998.7 227.7V184.3M1001.8 227.7V148.3M1005.3 227.7V166.2M1008 227.7V181M1011 227.7V145.6M1014 227.7V180M1017.2 227.7V167.8M1020 227.7V136M1023 227.7V159.6M1025.2 227.7V163.3M1027.5 227.7V159.6M1031 227.7V159.6M1032.6 227.7V184.3M1035.7 227.7V157.6M1038.4 227.7V155.5M1041.9 227.7V177M1044.4 227.7V169.9M1047.2 227.7V158.6M1051 227.7V184.3M1054.4 227.7V157.6M1057.5 227.7V172M1059.8 227.7V170.3M1061.2 227.7V162.3M1062.9 227.7V186.3M1064.9 227.7V195.6M1068.6 227.7V188M1071.7 227.7V200.7M1075.8 227.7V210M1078.9 227.7V204.8M1082 227.7V202.4M1086 227.7V205.9M1088 227.7V214M1090.6 227.7V218.2M1092.9 227.7V212M1094.9 227.7V193.5M1097.4 227.7V172M1100.5 227.7V167.8M1103 227.7V164M1105.6 227.7V156.5M1108 227.7V153.4M1110.7 227.7V150.4M1113.4 227.7V151.4M1115.9 227.7V148.9M1118.3 227.7V146.2M1121 227.7V144.2M1123.7 227.7V147.3M1126.6 227.7V140.5M1129.2 227.7V149.3M1132.3 227.7V143.2M1135 227.7V153.9M1138 227.7V160M1141 227.7V166.8M1143.8 227.7V168.2M1146.7 227.7V171.5M1149.8 227.7V183.2M1152.9 227.7V183.2M1154.5 227.7V196.6M1155.3 227.7V215"/><polygon fill="#7E2F8E" fill-opacity="0.6" points="947.3,227.7 947.3,264.9 949.4,264.9 949.4,266.8 952.5,266.8 952.5,266.8 955.6,266.8 955.6,278.5 958.6,278.5 958.6,287.2 962.7,287.2 962.7,297.7 965.8,297.7 965.8,284.2 970,284.2 970,284.2 973,284.2 973,294.7 975.7,294.7 975.7,291.9 979.2,291.9 979.2,291.9 981.6,291.9 981.6,296.4 984,296.4 984,294.7 987.4,294.7 987.4,293.5 991.5,293.5 991.5,293.5 995.6,293.5 995.6,276.5 998.3,276.5 998.3,276.5 1001.8,276.5 1001.8,287.2 1004.9,287.2 1004.9,288.1 1009,288.1 1009,288.1 1013,288.1 1013,288.1 1017.2,288.1 1017.2,278.5 1020.3,278.5 1020.3,278.5 1023.4,278.5 1023.4,294.7 1026,294.7 1026,264.9 1029.6,264.9 1029.6,264.9 1032.6,264.9 1032.6,288.1 1036.3,288.1 1036.3,299.7 1039.8,299.7 1039.8,283.3 1042.9,283.3 1042.9,278.5 1045.2,278.5 1045.2,278.5 1047.6,278.5 1047.6,268.8 1051,268.8 1051,268.8 1054.6,268.8 1054.6,266.8 1057.9,266.8 1057.9,266.8 1060.8,266.8 1060.8,257.1 1063.5,257.1 1063.5,250.4 1066.5,250.4 1066.5,250.4 1069,250.4 1069,259 1071.3,259 1071.3,251 1074.8,251 1074.8,245.6 1078.9,245.6 1078.9,245.6 1083,245.6 1083,240.8 1086,240.8 1086,238.8 1089,238.8 1089,238.8 1092.2,238.8 1092.2,240.8 1093.7,240.8 1093.7,249.4 1096,249.4 1096,227.7"/><polygon fill="#7E2F8E" fill-opacity="0.78" points="1096,227.7 1096,268.8 1098.8,268.8 1098.8,283.3 1101.5,283.3 1101.5,287.7 1104.2,287.7 1104.2,294.4 1106.8,294.4 1106.8,303.6 1109.7,303.6 1109.7,311.3 1112.2,311.3 1112.2,318 1114.9,318 1114.9,322.9 1117.5,322.9 1117.5,328.3 1120,328.3 1120,331.6 1123,331.6 1123,331.6 1125.6,331.6 1125.6,331.6 1128.2,331.6 1128.2,334.9 1131.3,334.9 1131.3,334.9 1134,334.9 1134,326.3 1137.5,326.3 1137.5,318 1140.5,318 1140.5,313.8 1143,313.8 1143,306.5 1145.7,306.5 1145.7,288.1 1148.8,288.1 1148.8,282.3 1151.9,282.3 1151.9,234.9 1153.3,234.9 1153.3,231.7 1155,231.7 1155,227.7"/><polygon fill="#7E2F8E" points="947.3,226.7 947.3,261.1 949.4,261.1 949.4,260.9 952.5,260.9 952.5,259.4 955.6,259.4 955.6,270.5 958.6,270.5 958.6,280.1 962.7,280.1 962.7,290.1 965.8,290.1 965.8,278.8 970,278.8 970,279.8 973,279.8 973,287.3 975.7,287.3 975.7,278.5 979.2,278.5 979.2,286.8 981.6,286.8 981.6,284.2 984,284.2 984,286.1 987.4,286.1 987.4,282.7 991.5,282.7 991.5,287.1 995.6,287.1 995.6,267 998.3,267 998.3,267.4 1001.8,267.4 1001.8,276.1 1004.9,276.1 1004.9,275.8 1009,275.8 1009,283.8 1013,283.8 1013,280.5 1017.2,280.5 1017.2,269.7 1020.3,269.7 1020.3,270.4 1023.4,270.4 1023.4,291.2 1026,291.2 1026,259.7 1029.6,259.7 1029.6,257.9 1032.6,257.9 1032.6,283 1036.3,283 1036.3,291.6 1039.8,291.6 1039.8,280.4 1042.9,280.4 1042.9,267.7 1045.2,267.7 1045.2,271.1 1047.6,271.1 1047.6,265.4 1051,265.4 1051,265.5 1054.6,265.5 1054.6,264.2 1057.9,264.2 1057.9,258 1060.8,258 1060.8,251.9 1063.5,251.9 1063.5,245.7 1066.5,245.7 1066.5,246 1069,246 1069,257.3 1071.3,257.3 1071.3,248.1 1074.8,248.1 1074.8,244.4 1078.9,244.4 1078.9,242.6 1083,242.6 1083,239.8 1086,239.8 1086,237.1 1089,237.1 1089,236.7 1092.2,236.7 1092.2,239.6 1093.7,239.6 1093.7,244.2 1096,244.2 1096,246.8 1098.8,246.8 1098.8,256.6 1101.5,256.6 1101.5,259.4 1104.2,259.4 1104.2,260.3 1106.8,260.3 1106.8,266.3 1109.7,266.3 1109.7,268.5 1112.2,268.5 1112.2,272.8 1114.9,272.8 1114.9,276.2 1117.5,276.2 1117.5,283.2 1120,283.2 1120,286.1 1123,286.1 1123,281.3 1125.6,281.3 1125.6,279.3 1128.2,279.3 1128.2,284.7 1131.3,284.7 1131.3,288.3 1134,288.3 1134,277.2 1137.5,277.2 1137.5,273.7 1140.5,273.7 1140.5,270 1143,270 1143,271.1 1145.7,271.1 1145.7,258.9 1148.8,258.9 1148.8,252.8 1151.9,252.8 1151.9,231.1 1153.3,231.1 1153.3,229.7 1155,229.7 1155,226.7"/><path fill="none" stroke="#7E2F8E" stroke-width="1.9" d="M947.3 227.7V267.3M949.4 227.7V279.6M952.5 227.7V269.3M955.6 227.7V281.7M958.6 227.7V291M962.7 227.7V320.3M965.8 227.7V302.2M970 227.7V287.8M973 227.7V299M975.7 227.7V317.6M979.2 227.7V296M981.6 227.7V300.8M984 227.7V316.6M987.4 227.7V299M991.5 227.7V297.7M995.6 227.7V298M998.3 227.7V279.6M1001.8 227.7V291M1004.9 227.7V292M1009 227.7V308M1013 227.7V292M1017.2 227.7V316.2M1020.3 227.7V281.7M1023.4 227.7V299M1026 227.7V312M1029.6 227.7V267.3M1032.6 227.7V292M1036.3 227.7V321.7M1039.8 227.7V304.3M1042.9 227.7V286.8M1045.2 227.7V281.7M1047.6 227.7V281.7M1051 227.7V271.4M1054.6 227.7V295M1057.9 227.7V269.3M1060.8 227.7V291.5M1063.5 227.7V259M1066.5 227.7V251.9M1069 227.7V268.3M1071.3 227.7V261M1074.8 227.7V252.5M1078.9 227.7V246.7M1083 227.7V257.4M1086 227.7V241.6M1089 227.7V239.5M1092.2 227.7V241.6M1093.7 227.7V250.8M1096 227.7V271.4M1098.8 227.7V286.8M1101.5 227.7V291.5M1104.2 227.7V298.7M1106.8 227.7V308.4M1109.7 227.7V316.6M1112.2 227.7V323.8M1114.9 227.7V329M1117.5 227.7V334.7M1120 227.7V338.2M1123 227.7V340.9M1125.6 227.7V338.2M1128.2 227.7V344.4M1131.3 227.7V341.7M1134 227.7V341.7M1137.5 227.7V332.6M1140.5 227.7V323.8M1143 227.7V319.3M1145.7 227.7V311.5M1148.8 227.7V292M1151.9 227.7V285.8M1153.3 227.7V235.4M1155 227.7V232"/></g>
<g><polygon fill="#77AC30" fill-opacity="0.55" points="1170.8,227.7 1170.8,172.5 1174.8,172.5 1174.8,164.5 1177.8,164.5 1177.8,164.5 1181,164.5 1181,160 1184.3,160 1184.3,159.1 1187.7,159.1 1187.7,148.4 1190.6,148.4 1190.6,134.7 1193.8,134.7 1193.8,131.8 1197,131.8 1197,134.7 1200,134.7 1200,141.8 1203,141.8 1203,146.7 1206,146.7 1206,152 1209,152 1209,153.4 1212,153.4 1212,153.8 1215,153.8 1215,155.1 1218,155.1 1218,164 1220.7,164 1220.7,164 1223.7,164 1223.7,158.2 1226.3,158.2 1226.3,152 1229.2,152 1229.2,140.9 1232.2,140.9 1232.2,144.3 1235.2,144.3 1235.2,144.3 1238,144.3 1238,148.4 1241,148.4 1241,148.4 1244,148.4 1244,141.8 1247,141.8 1247,143.1 1250,143.1 1250,143.1 1253,143.1 1253,140 1256,140 1256,139.1 1259,139.1 1259,140 1261.9,140 1261.9,141.3 1264.9,141.3 1264.9,141.3 1267.8,141.3 1267.8,139.1 1270.8,139.1 1270.8,134.6 1273.8,134.6 1273.8,135.1 1276.7,135.1 1276.7,135.1 1279.7,135.1 1279.7,135.1 1282.7,135.1 1282.7,141.3 1285.6,141.3 1285.6,144 1288.6,144 1288.6,144 1291.6,144 1291.6,141.8 1294.5,141.8 1294.5,141.8 1296.9,141.8 1296.9,134.6 1299.5,134.6 1299.5,152 1301.9,152 1301.9,169.8 1303.8,169.8 1303.8,169.8 1306.6,169.8 1306.6,165.3 1309.4,165.3 1309.4,157.8 1312,157.8 1312,161.8 1314.5,161.8 1314.5,171.6 1317.3,171.6 1317.3,176 1320.3,176 1320.3,178.7 1323.3,178.7 1323.3,178.7 1326.2,178.7 1326.2,188.5 1329.2,188.5 1329.2,203.7 1331.2,203.7 1331.2,203.7 1335,203.7 1335,201.3 1338.5,201.3 1338.5,204.6 1341.7,204.6 1341.7,206.7 1345,206.7 1345,214.7 1348,214.7 1348,225.9 1349.4,225.9 1349.4,227.7"/><polygon fill="#77AC30" points="1170.8,228.7 1170.8,180.9 1174.8,180.9 1174.8,176.8 1177.8,176.8 1177.8,178 1181,178 1181,174.2 1184.3,174.2 1184.3,166.8 1187.7,166.8 1187.7,165 1190.6,165 1190.6,150.6 1193.8,150.6 1193.8,151.3 1197,151.3 1197,152.7 1200,152.7 1200,152.6 1203,152.6 1203,155.2 1206,155.2 1206,167.3 1209,167.3 1209,170.3 1212,170.3 1212,164.6 1215,164.6 1215,171.5 1218,171.5 1218,180.3 1220.7,180.3 1220.7,171.6 1223.7,171.6 1223.7,171.6 1226.3,171.6 1226.3,162 1229.2,162 1229.2,157.9 1232.2,157.9 1232.2,154.5 1235.2,154.5 1235.2,159.9 1238,159.9 1238,166.8 1241,166.8 1241,168.6 1244,168.6 1244,156.7 1247,156.7 1247,156.6 1250,156.6 1250,153.1 1253,153.1 1253,161.4 1256,161.4 1256,153.5 1259,153.5 1259,157.6 1261.9,157.6 1261.9,156.9 1264.9,156.9 1264.9,161.6 1267.8,161.6 1267.8,158.1 1270.8,158.1 1270.8,151.1 1273.8,151.1 1273.8,145.9 1276.7,145.9 1276.7,157.3 1279.7,157.3 1279.7,152 1282.7,152 1282.7,152.9 1285.6,152.9 1285.6,153.2 1288.6,153.2 1288.6,163 1291.6,163 1291.6,162.2 1294.5,162.2 1294.5,151.6 1296.9,151.6 1296.9,144.7 1299.5,144.7 1299.5,166.1 1301.9,166.1 1301.9,184.7 1303.8,184.7 1303.8,177.6 1306.6,177.6 1306.6,179.3 1309.4,179.3 1309.4,168.7 1312,168.7 1312,175.4 1314.5,175.4 1314.5,182.1 1317.3,182.1 1317.3,191 1320.3,191 1320.3,188.8 1323.3,188.8 1323.3,192.7 1326.2,192.7 1326.2,198.7 1329.2,198.7 1329.2,208.4 1331.2,208.4 1331.2,208.5 1335,208.5 1335,209 1338.5,209 1338.5,211.2 1341.7,211.2 1341.7,212.2 1345,212.2 1345,217.9 1348,217.9 1348,226.4 1349.4,226.4 1349.4,228.7"/><path fill="none" stroke="#77AC30" stroke-width="2.0" d="M1170.8 227.7V166.4M1174.8 227.7V156.5M1177.8 227.7V157.5M1181 227.7V152.5M1184.3 227.7V151.5M1187.7 227.7V139.6M1190.6 227.7V124.4M1193.8 227.7V118.5M1197 227.7V121.2M1200 227.7V124.4M1203 227.7V132.3M1206 227.7V137.7M1209 227.7V143.6M1212 227.7V145.2M1215 227.7V145.6M1218 227.7V147M1220.7 227.7V156.9M1223.7 227.7V150.5M1226.3 227.7V143.6M1229.2 227.7V129.3M1232.2 227.7V131.3M1235.2 227.7V135M1238 227.7V132.3M1241 227.7V139.6M1244 227.7V132.3M1247 227.7V132.3M1250 227.7V133.7M1253 227.7V130.3M1256 227.7V129.3M1259 227.7V128.4M1261.9 227.7V130.3M1264.9 227.7V131.7M1267.8 227.7V129.3M1270.8 227.7V124.2M1273.8 227.7V123.2M1276.7 227.7V124.8M1279.7 227.7V119.3M1282.7 227.7V124.8M1285.6 227.7V131.7M1288.6 227.7V134.7M1291.6 227.7V132.3M1294.5 227.7V132.3M1296.9 227.7V116.3M1299.5 227.7V124.2M1301.9 227.7V143.6M1303.8 227.7V163.4M1306.6 227.7V158.4M1309.4 227.7V150M1312 227.7V143.2M1314.5 227.7V154.5M1317.3 227.7V165.4M1320.3 227.7V170.3M1323.3 227.7V173.3M1326.2 227.7V171.3M1329.2 227.7V184.2M1331.2 227.7V201M1335 227.7V198.4M1338.5 227.7V197M1341.7 227.7V202M1345 227.7V204.4M1348 227.7V213.3M1349.4 227.7V225.7"/><polygon fill="#77AC30" fill-opacity="0.7" points="1168.8,227.7 1168.8,238.1 1170,238.1 1170,279.5 1173,279.5 1173,291.3 1176.4,291.3 1176.4,299.4 1179.4,299.4 1179.4,312.6 1182.6,312.6 1182.6,325.6 1185.6,325.6 1185.6,331.4 1189,331.4 1189,343.2 1192.2,343.2 1192.2,350.2 1195.7,350.2 1195.7,347.9 1199,347.9 1199,342.1 1202,342.1 1202,336.1 1205.2,336.1 1205.2,331.4 1209,331.4 1209,329.3 1211.5,329.3 1211.5,329.3 1214,329.3 1214,331.4 1217.8,331.4 1217.8,332.6 1221.6,332.6 1221.6,345.5 1224.8,345.5 1224.8,349.1 1227.8,349.1 1227.8,352.1 1230.9,352.1 1230.9,354.9 1234,354.9 1234,349.9 1237.4,349.9 1237.4,342.1 1241.7,342.1 1241.7,342.1 1245.4,342.1 1245.4,340.4 1248,340.4 1248,340.4 1250.5,340.4 1250.5,332.6 1253,332.6 1253,332.6 1255.5,332.6 1255.5,338.5 1259,338.5 1259,340.8 1263,340.8 1263,344.4 1266.8,344.4 1266.8,346.1 1269.3,346.1 1269.3,346.1 1271.8,346.1 1271.8,352.1 1275,352.1 1275,352.1 1278,352.1 1278,357.4 1281.4,357.4 1281.4,363.3 1284.4,363.3 1284.4,361.5 1287.6,361.5 1287.6,360.2 1290.6,360.2 1290.6,351.5 1293,351.5 1293,342.1 1296,342.1 1296,330.3 1298.7,330.3 1298.7,314.9 1301,314.9 1301,308.8 1304.5,308.8 1304.5,308.8 1308,308.8 1308,308.8 1311,308.8 1311,303.2 1314.5,303.2 1314.5,299.4 1317,299.4 1317,284.2 1320.8,284.2 1320.8,282.3 1324.6,282.3 1324.6,281.4 1327.8,281.4 1327.8,259.4 1330.8,259.4 1330.8,252.4 1333.9,252.4 1333.9,252.4 1337,252.4 1337,250 1340.4,250 1340.4,244 1343.4,244 1343.4,241.1 1346.4,241.1 1346.4,232.3 1349,232.3 1349,227.7"/><polygon fill="#77AC30" points="1168.8,226.7 1168.8,238.8 1170,238.8 1170,252.1 1173,252.1 1173,269.4 1176.4,269.4 1176.4,268 1179.4,268 1179.4,271.6 1182.6,271.6 1182.6,278.8 1185.6,278.8 1185.6,279.1 1189,279.1 1189,283.2 1192.2,283.2 1192.2,285.2 1195.7,285.2 1195.7,283.8 1199,283.8 1199,286.9 1202,286.9 1202,283.5 1205.2,283.5 1205.2,291.1 1209,291.1 1209,285 1211.5,285 1211.5,285 1214,285 1214,290.3 1217.8,290.3 1217.8,291.9 1221.6,291.9 1221.6,288 1224.8,288 1224.8,289.7 1227.8,289.7 1227.8,300.4 1230.9,300.4 1230.9,291.5 1234,291.5 1234,296 1237.4,296 1237.4,292.3 1241.7,292.3 1241.7,303.8 1245.4,303.8 1245.4,301 1248,301 1248,303 1250.5,303 1250.5,302.4 1253,302.4 1253,291.3 1255.5,291.3 1255.5,301.5 1259,301.5 1259,294.9 1263,294.9 1263,293.6 1266.8,293.6 1266.8,296.4 1269.3,296.4 1269.3,295.4 1271.8,295.4 1271.8,307.9 1275,307.9 1275,299.2 1278,299.2 1278,299.3 1281.4,299.3 1281.4,296.1 1284.4,296.1 1284.4,305.8 1287.6,305.8 1287.6,304 1290.6,304 1290.6,301.3 1293,301.3 1293,296.7 1296,296.7 1296,292.9 1298.7,292.9 1298.7,293.5 1301,293.5 1301,295.1 1304.5,295.1 1304.5,293.3 1308,293.3 1308,283.5 1311,283.5 1311,276.4 1314.5,276.4 1314.5,271.5 1317,271.5 1317,265.2 1320.8,265.2 1320.8,256.7 1324.6,256.7 1324.6,252.1 1327.8,252.1 1327.8,249.7 1330.8,249.7 1330.8,249.8 1333.9,249.8 1333.9,245.7 1337,245.7 1337,240.9 1340.4,240.9 1340.4,238.8 1343.4,238.8 1343.4,236.9 1346.4,236.9 1346.4,232.6 1349,232.6 1349,226.7"/><path fill="none" stroke="#77AC30" stroke-width="1.7" d="M1168.8 227.7V238.8M1170 227.7V282.8M1173 227.7V295.4M1176.4 227.7V304M1179.4 227.7V318M1182.6 227.7V331.8M1185.6 227.7V338M1189 227.7V350.6M1192.2 227.7V358M1195.7 227.7V360M1199 227.7V355.6M1202 227.7V349.4M1205.2 227.7V343M1209 227.7V338M1211.5 227.7V335.7M1214 227.7V338M1217.8 227.7V339.3M1221.6 227.7V353M1224.8 227.7V356.9M1227.8 227.7V360M1230.9 227.7V366.4M1234 227.7V363M1237.4 227.7V357.7M1241.7 227.7V349.4M1245.4 227.7V350.6M1248 227.7V347.6M1250.5 227.7V347.6M1253 227.7V339.3M1255.5 227.7V345.6M1259 227.7V348M1263 227.7V351.9M1266.8 227.7V357M1269.3 227.7V353.6M1271.8 227.7V365M1275 227.7V360M1278 227.7V365.7M1281.4 227.7V372M1284.4 227.7V372.5M1287.6 227.7V370M1290.6 227.7V368.7M1293 227.7V359.4M1296 227.7V349.4M1298.7 227.7V336.8M1301 227.7V320.5M1304.5 227.7V314M1308 227.7V323.5M1311 227.7V314M1314.5 227.7V308M1317 227.7V304M1320.8 227.7V287.8M1324.6 227.7V285.8M1327.8 227.7V284.8M1330.8 227.7V261.4M1333.9 227.7V254M1337 227.7V259M1340.4 227.7V251.4M1343.4 227.7V245M1346.4 227.7V242M1349 227.7V232.6"/></g>
<g><polygon fill="#4DBEEE" fill-opacity="0.5" points="1363.4,227.7 1363.4,219.3 1366.3,219.3 1366.3,210.3 1369.3,210.3 1369.3,212.1 1372.5,212.1 1372.5,213.5 1375.6,213.5 1375.6,213.5 1378.6,213.5 1378.6,206.6 1381.7,206.6 1381.7,197.7 1384.7,197.7 1384.7,194.3 1387.8,194.3 1387.8,191.5 1390.8,191.5 1390.8,183.9 1393.8,183.9 1393.8,175.1 1396.6,175.1 1396.6,173.1 1399.5,173.1 1399.5,173.1 1402.2,173.1 1402.2,178.5 1404.8,178.5 1404.8,178.5 1407.9,178.5 1407.9,159.6 1410.9,159.6 1410.9,159.6 1413.6,159.6 1413.6,160 1416.5,160 1416.5,165 1419.3,165 1419.3,165 1422,165 1422,163.4 1424.9,163.4 1424.9,160.7 1428,160.7 1428,164.1 1430.7,164.1 1430.7,164.1 1433.7,164.1 1433.7,164.1 1436.8,164.1 1436.8,162.4 1439.8,162.4 1439.8,166.8 1442.9,166.8 1442.9,169.6 1445.9,169.6 1445.9,170.4 1449,170.4 1449,171.6 1452,171.6 1452,174.4 1455,174.4 1455,177.8 1458.4,177.8 1458.4,177.8 1461.9,177.8 1461.9,174.1 1465,174.1 1465,170.5 1468,170.5 1468,174.1 1471,174.1 1471,175.1 1474,175.1 1474,175.1 1477,175.1 1477,174.1 1480.2,174.1 1480.2,176 1483.2,176 1483.2,176 1486.3,176 1486.3,175.5 1489.3,175.5 1489.3,175.5 1492.4,175.5 1492.4,170.7 1495.7,170.7 1495.7,170.3 1498.8,170.3 1498.8,167.8 1501.8,167.8 1501.8,167.6 1504.5,167.6 1504.5,167.6 1506.8,167.6 1506.8,164.5 1509.9,164.5 1509.9,160.7 1512.9,160.7 1512.9,157 1516.3,157 1516.3,172.3 1518,172.3 1518,186.8 1519.5,186.8 1519.5,190.2 1521.3,190.2 1521.3,190.2 1523,190.2 1523,218.2 1525,218.2 1525,222.6 1526.3,222.6 1526.3,227.7"/><polygon fill="#4DBEEE" points="1363.4,228.7 1363.4,221.2 1366.3,221.2 1366.3,214 1369.3,214 1369.3,214.4 1372.5,214.4 1372.5,216.9 1375.6,216.9 1375.6,217 1378.6,217 1378.6,210.7 1381.7,210.7 1381.7,204.6 1384.7,204.6 1384.7,200.7 1387.8,200.7 1387.8,199.1 1390.8,199.1 1390.8,190.7 1393.8,190.7 1393.8,183.3 1396.6,183.3 1396.6,184.7 1399.5,184.7 1399.5,182.1 1402.2,182.1 1402.2,189.8 1404.8,189.8 1404.8,193.2 1407.9,193.2 1407.9,171.9 1410.9,171.9 1410.9,178 1413.6,178 1413.6,178.8 1416.5,178.8 1416.5,182.5 1419.3,182.5 1419.3,177.3 1422,177.3 1422,173.5 1424.9,173.5 1424.9,171.6 1428,171.6 1428,177.4 1430.7,177.4 1430.7,178.2 1433.7,178.2 1433.7,178.2 1436.8,178.2 1436.8,167.7 1439.8,167.7 1439.8,169.9 1442.9,169.9 1442.9,172.4 1445.9,172.4 1445.9,169.6 1449,169.6 1449,172.9 1452,172.9 1452,170.9 1455,170.9 1455,176.3 1458.4,176.3 1458.4,180.6 1461.9,180.6 1461.9,170.8 1465,170.8 1465,175.8 1468,175.8 1468,174.4 1471,174.4 1471,176.5 1474,176.5 1474,178.1 1477,178.1 1477,178.9 1480.2,178.9 1480.2,173.9 1483.2,173.9 1483.2,181 1486.3,181 1486.3,175.4 1489.3,175.4 1489.3,171.7 1492.4,171.7 1492.4,174.8 1495.7,174.8 1495.7,173.8 1498.8,173.8 1498.8,167 1501.8,167 1501.8,167.8 1504.5,167.8 1504.5,166.4 1506.8,166.4 1506.8,161.2 1509.9,161.2 1509.9,165 1512.9,165 1512.9,159.8 1516.3,159.8 1516.3,174.6 1518,174.6 1518,190.2 1519.5,190.2 1519.5,187.6 1521.3,187.6 1521.3,188.4 1523,188.4 1523,217.9 1525,217.9 1525,223 1526.3,223 1526.3,228.7"/><path fill="none" stroke="#4DBEEE" stroke-width="2.1" d="M1363.4 227.7V218.4M1366.3 227.7V205.3M1369.3 227.7V208.4M1372.5 227.7V210.4M1375.6 227.7V211.9M1378.6 227.7V204.3M1381.7 227.7V194.4M1384.7 227.7V190.6M1387.8 227.7V187.5M1390.8 227.7V179M1393.8 227.7V169.3M1396.6 227.7V161.6M1399.5 227.7V167M1402.2 227.7V167M1404.8 227.7V173M1407.9 227.7V149.2M1410.9 227.7V152M1413.6 227.7V151M1416.5 227.7V152.5M1419.3 227.7V158M1422 227.7V156.3M1424.9 227.7V153.3M1428 227.7V150.2M1430.7 227.7V157M1433.7 227.7V157M1436.8 227.7V155.2M1439.8 227.7V154M1442.9 227.7V160M1445.9 227.7V163.2M1449 227.7V164M1452 227.7V165.4M1455 227.7V168.5M1458.4 227.7V172.3M1461.9 227.7V168.2M1465 227.7V163.2M1468 227.7V164.2M1471 227.7V168.2M1474 227.7V169.3M1477 227.7V166.2M1480.2 227.7V168.2M1483.2 227.7V170.3M1486.3 227.7V166.2M1489.3 227.7V169.7M1492.4 227.7V164.4M1495.7 227.7V163.9M1498.8 227.7V161.2M1501.8 227.7V160M1504.5 227.7V160.9M1506.8 227.7V157.5M1509.9 227.7V153.3M1512.9 227.7V149.2M1516.3 227.7V148.4M1518 227.7V166.2M1519.5 227.7V182.2M1521.3 227.7V186M1523 227.7V170M1525 227.7V217.2M1526.3 227.7V222"/><polygon fill="#4DBEEE" fill-opacity="0.66" points="1363.8,227.7 1363.8,240.5 1367.6,240.5 1367.6,242.8 1371.3,242.8 1371.3,244 1374.6,244 1374.6,240.5 1377.6,240.5 1377.6,240.5 1380,240.5 1380,251.1 1383,251.1 1383,263.4 1386.4,263.4 1386.4,266.5 1389.4,266.5 1389.4,278.7 1392.2,278.7 1392.2,297.2 1395.2,297.2 1395.2,305.4 1398.4,305.4 1398.4,309.7 1401.5,309.7 1401.5,314.8 1403.2,314.8 1403.2,335.3 1406,335.3 1406,350.2 1409,350.2 1409,363.2 1412,363.2 1412,346.7 1414.8,346.7 1414.8,333.7 1417.8,333.7 1417.8,330.9 1420.8,330.9 1420.8,330.9 1423.8,330.9 1423.8,334.9 1426.8,334.9 1426.8,334.9 1429.8,334.9 1429.8,332.5 1432.8,332.5 1432.8,332.5 1435.8,332.5 1435.8,327.8 1438.9,327.8 1438.9,324.2 1441.9,324.2 1441.9,324.2 1444.9,324.2 1444.9,326.1 1447.9,326.1 1447.9,326.7 1450.9,326.7 1450.9,324.2 1453.9,324.2 1453.9,324.2 1456.9,324.2 1456.9,326.7 1459.9,326.7 1459.9,326.7 1463,326.7 1463,323.1 1466,323.1 1466,320.8 1469,320.8 1469,320.8 1472,320.8 1472,321.4 1475,321.4 1475,323.9 1478,323.9 1478,324.2 1481,324.2 1481,323.9 1484,323.9 1484,323.9 1487,323.9 1487,327.2 1490,327.2 1490,327.2 1493,327.2 1493,327.8 1496,327.8 1496,332.5 1499,332.5 1499,333.3 1502,333.3 1502,335.3 1505,335.3 1505,336.6 1508,336.6 1508,340.8 1511.9,340.8 1511.9,346.2 1514.9,346.2 1514.9,329 1517.7,329 1517.7,304.1 1521.4,304.1 1521.4,292.5 1525,292.5 1525,239.3 1526.5,239.3 1526.5,227.7"/><polygon fill="#4DBEEE" points="1363.8,226.7 1363.8,237.3 1367.6,237.3 1367.6,238.8 1371.3,238.8 1371.3,239 1374.6,239 1374.6,240.2 1377.6,240.2 1377.6,241.3 1380,241.3 1380,246.5 1383,246.5 1383,251.5 1386.4,251.5 1386.4,255.6 1389.4,255.6 1389.4,260.1 1392.2,260.1 1392.2,258.9 1395.2,258.9 1395.2,265.9 1398.4,265.9 1398.4,267.8 1401.5,267.8 1401.5,261.3 1403.2,261.3 1403.2,262.8 1406,262.8 1406,260.3 1409,260.3 1409,258.4 1412,258.4 1412,252.6 1414.8,252.6 1414.8,252.8 1417.8,252.8 1417.8,254.8 1420.8,254.8 1420.8,255.5 1423.8,255.5 1423.8,258.6 1426.8,258.6 1426.8,258.9 1429.8,258.9 1429.8,262.8 1432.8,262.8 1432.8,263.1 1435.8,263.1 1435.8,264.9 1438.9,264.9 1438.9,268.2 1441.9,268.2 1441.9,269.9 1444.9,269.9 1444.9,274.3 1447.9,274.3 1447.9,273.3 1450.9,273.3 1450.9,282 1453.9,282 1453.9,281.6 1456.9,281.6 1456.9,274.6 1459.9,274.6 1459.9,277.3 1463,277.3 1463,281 1466,281 1466,272.5 1469,272.5 1469,279.8 1472,279.8 1472,271.6 1475,271.6 1475,273.4 1478,273.4 1478,282.7 1481,282.7 1481,282.5 1484,282.5 1484,283.7 1487,283.7 1487,278.3 1490,278.3 1490,286 1493,286 1493,281.6 1496,281.6 1496,278.7 1499,278.7 1499,282.1 1502,282.1 1502,280.5 1505,280.5 1505,283.4 1508,283.4 1508,278.2 1511.9,278.2 1511.9,264.1 1514.9,264.1 1514.9,260.4 1517.7,260.4 1517.7,252.3 1521.4,252.3 1521.4,244.8 1525,244.8 1525,240 1526.5,240 1526.5,226.7"/><path fill="none" stroke="#4DBEEE" stroke-width="1.7" d="M1363.8 227.7V241.3M1367.6 227.7V243.8M1371.3 227.7V245M1374.6 227.7V245M1377.6 227.7V241.3M1380 227.7V252.6M1383 227.7V265.7M1386.4 227.7V269M1389.4 227.7V282M1392.2 227.7V301.6M1395.2 227.7V310.4M1398.4 227.7V314.9M1401.5 227.7V320.4M1403.2 227.7V342.2M1406 227.7V358M1409 227.7V375.1M1412 227.7V371.9M1414.8 227.7V354.3M1417.8 227.7V340.5M1420.8 227.7V337.5M1423.8 227.7V341.7M1426.8 227.7V341.7M1429.8 227.7V341.7M1432.8 227.7V339.2M1435.8 227.7V340M1438.9 227.7V334.2M1441.9 227.7V330.4M1444.9 227.7V332.4M1447.9 227.7V337.5M1450.9 227.7V333M1453.9 227.7V330.4M1456.9 227.7V333M1459.9 227.7V334.2M1463 227.7V333M1466 227.7V329.2M1469 227.7V326.7M1472 227.7V327.4M1475 227.7V330M1478 227.7V332.2M1481 227.7V330.4M1484 227.7V330M1487 227.7V333.5M1490 227.7V333.5M1493 227.7V334.2M1496 227.7V339.2M1499 227.7V340M1502 227.7V342.2M1505 227.7V343.5M1508 227.7V348M1511.9 227.7V354.3M1514.9 227.7V353.8M1517.7 227.7V335.5M1521.4 227.7V309M1525 227.7V296.6M1526.5 227.7V240"/></g>
<g><polygon fill="#A2142F" fill-opacity="0.78" points="1541,227.7 1541,185.5 1544.1,185.5 1544.1,185.5 1547.8,185.5 1547.8,160.9 1551,160.9 1551,140.3 1554.4,140.3 1554.4,137.2 1557.6,137.2 1557.6,136.2 1560.8,136.2 1560.8,137.2 1564,137.2 1564,138.3 1567,138.3 1567,138.3 1570.2,138.3 1570.2,135.8 1573,135.8 1573,132.6 1576.3,132.6 1576.3,132.6 1579.5,132.6 1579.5,130.1 1582.7,130.1 1582.7,127.6 1586,127.6 1586,125.5 1588.9,125.5 1588.9,123.9 1592,123.9 1592,119.1 1595,119.1 1595,117.3 1598,117.3 1598,115.3 1601.2,115.3 1601.2,114 1604.4,114 1604.4,111.9 1607.6,111.9 1607.6,111.1 1611,111.1 1611,137.2 1614,137.2 1614,147.5 1617.2,147.5 1617.2,150.6 1620.4,150.6 1620.4,150.6 1623,150.6 1623,159.2 1625.8,159.2 1625.8,160.5 1628.8,160.5 1628.8,160.5 1632,160.5 1632,152.6 1635,152.6 1635,152.6 1638,152.6 1638,148.6 1641,148.6 1641,144.4 1644,144.4 1644,140.7 1647,140.7 1647,147 1649.8,147 1649.8,147 1653.2,147 1653.2,137.2 1656.4,137.2 1656.4,140.7 1659.6,140.7 1659.6,142.5 1662.8,142.5 1662.8,142.5 1666,142.5 1666,133.5 1669.2,133.5 1669.2,130.1 1672.6,130.1 1672.6,130.1 1676,130.1 1676,121.8 1679.2,121.8 1679.2,123.9 1682.4,123.9 1682.4,124.5 1685.9,124.5 1685.9,131.7 1689.7,131.7 1689.7,151 1693,151 1693,169.7 1696.6,169.7 1696.6,183 1700,183 1700,227.7"/><polygon fill="#A2142F" points="1541,228.7 1541,209.8 1544.1,209.8 1544.1,192.2 1547.8,192.2 1547.8,198.3 1551,198.3 1551,198.1 1554.4,198.1 1554.4,187.1 1557.6,187.1 1557.6,158.3 1560.8,158.3 1560.8,148.7 1564,148.7 1564,198 1567,198 1567,174.4 1570.2,174.4 1570.2,173.2 1573,173.2 1573,155.9 1576.3,155.9 1576.3,187.6 1579.5,187.6 1579.5,170.7 1582.7,170.7 1582.7,177.5 1586,177.5 1586,150.7 1588.9,150.7 1588.9,181 1592,181 1592,140.5 1595,140.5 1595,177.3 1598,177.3 1598,180.7 1601.2,180.7 1601.2,152.4 1604.4,152.4 1604.4,163.3 1607.6,163.3 1607.6,186.1 1611,186.1 1611,170.6 1614,170.6 1614,196.3 1617.2,196.3 1617.2,165.3 1620.4,165.3 1620.4,169.3 1623,169.3 1623,172.3 1625.8,172.3 1625.8,179.5 1628.8,179.5 1628.8,190.2 1632,190.2 1632,183.9 1635,183.9 1635,184.2 1638,184.2 1638,158.9 1641,158.9 1641,194.4 1644,194.4 1644,152.1 1647,152.1 1647,198.3 1649.8,198.3 1649.8,189.7 1653.2,189.7 1653.2,182.2 1656.4,182.2 1656.4,151.5 1659.6,151.5 1659.6,173 1662.8,173 1662.8,179 1666,179 1666,146.1 1669.2,146.1 1669.2,180.2 1672.6,180.2 1672.6,167.3 1676,167.3 1676,157.8 1679.2,157.8 1679.2,145.7 1682.4,145.7 1682.4,146.2 1685.9,146.2 1685.9,157.9 1689.7,157.9 1689.7,185.3 1693,185.3 1693,202.6 1696.6,202.6 1696.6,216.9 1700,216.9 1700,228.7"/><path fill="none" stroke="#A2142F" stroke-width="2.3" d="M1541 227.7V176.3M1544.1 227.7V180.8M1547.8 227.7V153.5M1551 227.7V130.6M1554.4 227.7V127.2M1557.6 227.7V126M1560.8 227.7V126M1564 227.7V127.2M1567 227.7V128.4M1570.2 227.7V125.6M1573 227.7V122M1576.3 227.7V122M1579.5 227.7V119.2M1582.7 227.7V116.5M1586 227.7V114.2M1588.9 227.7V112.4M1592 227.7V107M1595 227.7V105M1598 227.7V102.8M1601.2 227.7V101.4M1604.4 227.7V99M1607.6 227.7V98.2M1611 227.7V96M1614 227.7V127.2M1617.2 227.7V138.6M1620.4 227.7V142M1623 227.7V141.4M1625.8 227.7V151.6M1628.8 227.7V153M1632 227.7V144.3M1635 227.7V144.3M1638 227.7V139.8M1641 227.7V135.2M1644 227.7V124.3M1647 227.7V131M1649.8 227.7V138M1653.2 227.7V127.2M1656.4 227.7V121M1659.6 227.7V131M1662.8 227.7V133M1666 227.7V123M1669.2 227.7V117.4M1672.6 227.7V119.2M1676 227.7V110M1679.2 227.7V107M1682.4 227.7V112.4M1685.9 227.7V113M1689.7 227.7V121M1693 227.7V142.5M1696.6 227.7V163.3M1700 227.7V178"/><polygon fill="#A2142F" fill-opacity="0.8" points="1540.9,227.7 1540.9,231.7 1543,231.7 1543,285.6 1546.3,285.6 1546.3,310.4 1549.4,310.4 1549.4,325 1552.8,325 1552.8,332.8 1555.9,332.8 1555.9,334.2 1559,334.2 1559,334.2 1562,334.2 1562,334.2 1565.2,334.2 1565.2,334.2 1568.3,334.2 1568.3,337 1571.4,337 1571.4,340 1574.5,340 1574.5,342 1577.6,342 1577.6,344 1580.7,344 1580.7,348.1 1583.8,348.1 1583.8,354.1 1586.9,354.1 1586.9,354.9 1590,354.9 1590,362.2 1593.4,362.2 1593.4,363.9 1596.7,363.9 1596.7,365.1 1599.8,365.1 1599.8,368 1603.2,368 1603.2,371.1 1606.3,371.1 1606.3,369.3 1609.4,369.3 1609.4,359 1612.2,359 1612.2,353.7 1615.3,353.7 1615.3,350.5 1618.4,350.5 1618.4,343.2 1621.8,343.2 1621.8,338.3 1624.9,338.3 1624.9,335.9 1628.3,335.9 1628.3,329.4 1631.4,329.4 1631.4,321.3 1634.2,321.3 1634.2,321.3 1636.5,321.3 1636.5,328.6 1639.4,328.6 1639.4,332.8 1642.5,332.8 1642.5,331.1 1645.6,331.1 1645.6,331.1 1648.4,331.1 1648.4,340 1651.5,340 1651.5,332.3 1654.6,332.3 1654.6,332.3 1658,332.3 1658,334.2 1661.4,334.2 1661.4,350.5 1664.5,350.5 1664.5,355.4 1667.8,355.4 1667.8,355.4 1670.9,355.4 1670.9,360.2 1674.3,360.2 1674.3,361.9 1677.4,361.9 1677.4,353 1681.3,353 1681.3,351.7 1684.6,351.7 1684.6,332.8 1687.7,332.8 1687.7,305.5 1691.6,305.5 1691.6,293.4 1695.5,293.4 1695.5,292.7 1698.6,292.7 1698.6,227.7"/><polygon fill="#A2142F" points="1540.9,226.7 1540.9,232 1543,232 1543,248.6 1546.3,248.6 1546.3,254.6 1549.4,254.6 1549.4,254.3 1552.8,254.3 1552.8,262.1 1555.9,262.1 1555.9,260.5 1559,260.5 1559,267.3 1562,267.3 1562,265.9 1565.2,265.9 1565.2,269.7 1568.3,269.7 1568.3,275.2 1571.4,275.2 1571.4,276.3 1574.5,276.3 1574.5,286.2 1577.6,286.2 1577.6,279.7 1580.7,279.7 1580.7,282.5 1583.8,282.5 1583.8,296.5 1586.9,296.5 1586.9,296.7 1590,296.7 1590,292.7 1593.4,292.7 1593.4,294.6 1596.7,294.6 1596.7,301.8 1599.8,301.8 1599.8,305.2 1603.2,305.2 1603.2,313.3 1606.3,313.3 1606.3,315.5 1609.4,315.5 1609.4,309.9 1612.2,309.9 1612.2,314.8 1615.3,314.8 1615.3,317.5 1618.4,317.5 1618.4,305.8 1621.8,305.8 1621.8,297.5 1624.9,297.5 1624.9,295.5 1628.3,295.5 1628.3,289.8 1631.4,289.8 1631.4,286.8 1634.2,286.8 1634.2,282.2 1636.5,282.2 1636.5,276.5 1639.4,276.5 1639.4,271.9 1642.5,271.9 1642.5,275.6 1645.6,275.6 1645.6,271.6 1648.4,271.6 1648.4,267.2 1651.5,267.2 1651.5,267.1 1654.6,267.1 1654.6,266.8 1658,266.8 1658,262.4 1661.4,262.4 1661.4,266 1664.5,266 1664.5,263.2 1667.8,263.2 1667.8,259.4 1670.9,259.4 1670.9,259.6 1674.3,259.6 1674.3,262.2 1677.4,262.2 1677.4,250.8 1681.3,250.8 1681.3,246.1 1684.6,246.1 1684.6,239.9 1687.7,239.9 1687.7,233.6 1691.6,233.6 1691.6,231.4 1695.5,231.4 1695.5,230.8 1698.6,230.8 1698.6,226.7"/><path fill="none" stroke="#A2142F" stroke-width="2.2" d="M1540.9 227.7V232M1543 227.7V289.3M1546.3 227.7V315.7M1549.4 227.7V331.2M1552.8 227.7V339.5M1555.9 227.7V342M1559 227.7V341M1562 227.7V341M1565.2 227.7V341M1568.3 227.7V344M1571.4 227.7V347.2M1574.5 227.7V349.3M1577.6 227.7V351.4M1580.7 227.7V355.8M1583.8 227.7V362.2M1586.9 227.7V363M1590 227.7V370.8M1593.4 227.7V372.6M1596.7 227.7V373.9M1599.8 227.7V377M1603.2 227.7V380.3M1606.3 227.7V380.3M1609.4 227.7V378.3M1612.2 227.7V367.4M1615.3 227.7V361.7M1618.4 227.7V358.3M1621.8 227.7V350.6M1624.9 227.7V345.4M1628.3 227.7V342.8M1631.4 227.7V335.9M1634.2 227.7V327.3M1636.5 227.7V335M1639.4 227.7V346.2M1642.5 227.7V339.5M1645.6 227.7V337.7M1648.4 227.7V347.2M1651.5 227.7V348.5M1654.6 227.7V339M1658 227.7V341M1661.4 227.7V358.3M1664.5 227.7V365.6M1667.8 227.7V363.5M1670.9 227.7V368.7M1674.3 227.7V370.8M1677.4 227.7V370.5M1681.3 227.7V361M1684.6 227.7V359.6M1687.7 227.7V339.5M1691.6 227.7V310.5M1695.5 227.7V297.6M1698.6 227.7V296.8"/><polygon fill="#A2142F" fill-opacity="0.25" points="1700,227.7 1700,193.8 1702.5,193.8 1702.5,193.8 1705,193.8 1705,186.6 1708.5,186.6 1708.5,182.4 1711.9,182.4 1711.9,182.4 1715.3,182.4 1715.3,184.5 1719,184.5 1719,185.5 1723.3,185.5 1723.3,185.5 1727.2,185.5 1727.2,182.1 1730.8,182.1 1730.8,182.1 1734.9,182.1 1734.9,185.5 1738.8,185.5 1738.8,214.3 1741,214.3 1741,222.6 1741.8,222.6 1741.8,227.7"/><polygon fill="#A2142F" fill-opacity="0.75" points="1700,227.7 1700,209.5 1702.5,209.5 1702.5,213.7 1705,213.7 1705,204.3 1708.5,204.3 1708.5,214.1 1711.9,214.1 1711.9,197.8 1715.3,197.8 1715.3,210.5 1719,210.5 1719,216.2 1723.3,216.2 1723.3,212.3 1727.2,212.3 1727.2,208.7 1730.8,208.7 1730.8,216 1734.9,216 1734.9,209.8 1738.8,209.8 1738.8,222 1741,222 1741,224.9 1741.8,224.9 1741.8,227.7"/><polygon fill="#A2142F" fill-opacity="0.25" points="1698.6,227.7 1698.6,292.7 1702.5,292.7 1702.5,301.2 1706.4,301.2 1706.4,309.2 1710.2,309.2 1710.2,305.5 1713.6,305.5 1713.6,297.1 1717.5,297.1 1717.5,295.3 1721.4,295.3 1721.4,295.3 1725.2,295.3 1725.2,301.9 1729.1,301.9 1729.1,299.4 1733,299.4 1733,293.4 1736.9,293.4 1736.9,291 1740.8,291 1740.8,234.6 1742,234.6 1742,227.7"/><polygon fill="#A2142F" fill-opacity="0.75" points="1698.6,227.7 1698.6,242.9 1702.5,242.9 1702.5,243.2 1706.4,243.2 1706.4,244.1 1710.2,244.1 1710.2,253.6 1713.6,253.6 1713.6,254.3 1717.5,254.3 1717.5,246.5 1721.4,246.5 1721.4,241.2 1725.2,241.2 1725.2,253.5 1729.1,253.5 1729.1,245.2 1733,245.2 1733,240.7 1736.9,240.7 1736.9,238.9 1740.8,238.9 1740.8,230 1742,230 1742,227.7"/><path fill="none" stroke="#A2142F" stroke-width="2.5" d="M1700 178L1698.6 296.8M1702.5 190L1702.5 305.9M1705 182L1706.4 314.4M1708.5 174.5L1710.2 314.4M1711.9 177.4L1713.6 310.5M1715.3 227.7V177.4M1719 179.7L1717.5 301.5M1723.3 180.8L1721.4 299.6M1727.2 175.1L1729.1 308M1730.8 227.7V177M1734.9 172.9L1733 304M1738.8 180.8L1736.9 297.6M1741 212.8L1740.8 295M1741.8 222L1742 235M1725.2 227.7V306.6"/></g>
<g><polygon fill="#FF00FF" fill-opacity="0.3" points="1756.8,227.7 1756.8,192 1758.3,192 1758.3,192 1762.1,192 1762.1,176.2 1765.9,176.2 1765.9,174 1770.1,174 1770.1,174 1774.1,174 1774.1,174 1778.3,174 1778.3,172.3 1782.3,172.3 1782.3,170.1 1786.3,170.1 1786.3,166.6 1790.3,166.6 1790.3,165.4 1794.3,165.4 1794.3,165.4 1798.3,165.4 1798.3,165.9 1802.3,165.9 1802.3,165.9 1806.3,165.9 1806.3,162.5 1810.3,162.5 1810.3,162.5 1814,162.5 1814,168 1818.2,168 1818.2,168 1822.4,168 1822.4,172.8 1826.4,172.8 1826.4,172.8 1830.4,172.8 1830.4,175.8 1834.8,175.8 1834.8,176.2 1838.8,176.2 1838.8,176.2 1842.8,176.2 1842.8,172.6 1847,172.6 1847,227.7"/><polygon fill="#FF00FF" fill-opacity="0.55" points="1756.8,227.7 1756.8,211.3 1758.3,211.3 1758.3,211.9 1762.1,211.9 1762.1,204.4 1765.9,204.4 1765.9,205.4 1770.1,205.4 1770.1,201 1774.1,201 1774.1,204.7 1778.3,204.7 1778.3,202.2 1782.3,202.2 1782.3,200 1786.3,200 1786.3,198.4 1790.3,198.4 1790.3,200.2 1794.3,200.2 1794.3,201.4 1798.3,201.4 1798.3,199.9 1802.3,199.9 1802.3,202.7 1806.3,202.7 1806.3,196.3 1810.3,196.3 1810.3,199.7 1814,199.7 1814,198.8 1818.2,198.8 1818.2,202.7 1822.4,202.7 1822.4,204 1826.4,204 1826.4,204.8 1830.4,204.8 1830.4,205 1834.8,205 1834.8,205.3 1838.8,205.3 1838.8,203.6 1842.8,203.6 1842.8,193.1 1847,193.1 1847,227.7"/><polygon fill="#FF00FF" fill-opacity="0.3" points="1756.4,227.7 1756.4,288.7 1760.5,288.7 1760.5,298.8 1764.4,298.8 1764.4,301.6 1768.5,301.6 1768.5,299.9 1772.4,299.9 1772.4,299.9 1776.5,299.9 1776.5,304.1 1780.4,304.1 1780.4,306.3 1784.5,306.3 1784.5,307.4 1788.6,307.4 1788.6,308.8 1792.7,308.8 1792.7,308.8 1796.8,308.8 1796.8,310.1 1800.9,310.1 1800.9,311.3 1804.8,311.3 1804.8,314.9 1808.9,314.9 1808.9,314.9 1812.6,314.9 1812.6,319.2 1816.7,319.2 1816.7,314.9 1820.3,314.9 1820.3,312.8 1824,312.8 1824,312.8 1827.9,312.8 1827.9,322.4 1832,322.4 1832,339.2 1836,339.2 1836,333.5 1840.2,333.5 1840.2,325.2 1844.3,325.2 1844.3,325.2 1848.7,325.2 1848.7,227.7"/><polygon fill="#FF00FF" fill-opacity="0.55" points="1756.4,227.7 1756.4,245.3 1760.5,245.3 1760.5,248.1 1764.4,248.1 1764.4,249.2 1768.5,249.2 1768.5,249.5 1772.4,249.5 1772.4,249.3 1776.5,249.3 1776.5,251.5 1780.4,251.5 1780.4,252.3 1784.5,252.3 1784.5,251.2 1788.6,251.2 1788.6,254.5 1792.7,254.5 1792.7,254.1 1796.8,254.1 1796.8,250.4 1800.9,250.4 1800.9,254.8 1804.8,254.8 1804.8,256.4 1808.9,256.4 1808.9,255.7 1812.6,255.7 1812.6,253.3 1816.7,253.3 1816.7,256 1820.3,256 1820.3,254.2 1824,254.2 1824,250.9 1827.9,250.9 1827.9,253.4 1832,253.4 1832,264.7 1836,264.7 1836,260.8 1840.2,260.8 1840.2,255.7 1844.3,255.7 1844.3,254.8 1848.7,254.8 1848.7,227.7"/><path fill="none" stroke="#FF00FF" stroke-width="2.6" d="M1756.8 188L1756.4 292.6M1758.3 188L1760.5 303.3M1762.1 170.5L1764.4 313.2M1765.9 227.7V164.6M1770.1 168L1768.5 306.3M1774.1 168L1772.4 304.5M1778.3 166.1L1776.5 309M1782.3 163.7L1780.4 311.3M1786.3 159.8L1784.5 312.5M1790.3 158.5L1788.6 314M1794.3 158.5L1792.7 314M1798.3 156.6L1796.8 315.4M1802.3 159L1800.9 316.6M1806.3 155.3L1804.8 323.2M1810.3 154.7L1808.9 320.5M1814 155.3L1812.6 325.5M1818.2 161.4L1816.7 325M1822.4 161.4L1824 318.2M1826.4 166.7L1827.9 328.4M1830.4 161.4L1832 346.3M1834.8 170L1836 350.6M1838.8 170.5L1840.2 340.3M1842.8 166.5L1844.3 331.4M1820.3 227.7V320.5"/><polygon fill="#FF00FF" fill-opacity="0.4" points="1847,227.7 1847,174.9 1850.8,174.9 1850.8,174.9 1853,174.9 1853,162 1855.4,162 1855.4,162 1857.6,162 1857.6,167.1 1859.7,167.1 1859.7,167.1 1862,167.1 1862,161.2 1864.5,161.2 1864.5,161.2 1866.8,161.2 1866.8,171.4 1868.7,171.4 1868.7,171.4 1871,171.4 1871,176.6 1873.4,176.6 1873.4,176.6 1875.9,176.6 1875.9,180.8 1878.2,180.8 1878.2,180.8 1880.5,180.8 1880.5,181.7 1882.9,181.7 1882.9,181.7 1886.7,181.7 1886.7,180.8 1890,180.8 1890,185.5 1892.4,185.5 1892.4,185.5 1895.3,185.5 1895.3,186.8 1899.5,186.8 1899.5,199.7 1902.3,199.7 1902.3,199.7 1905.4,199.7 1905.4,198.8 1907.7,198.8 1907.7,198.8 1910.1,198.8 1910.1,210 1912.4,210 1912.4,210 1914.7,210 1914.7,209.1 1917.2,209.1 1917.2,214.2 1920,214.2 1920,214.2 1922.5,214.2 1922.5,204.8 1924.6,204.8 1924.6,200.5 1926.7,200.5 1926.7,210.9 1928.6,210.9 1928.6,224.5 1930.5,224.5 1930.5,224.5 1932.4,224.5 1932.4,220.2 1935.3,220.2 1935.3,221.1 1937.2,221.1 1937.2,221.1 1938.9,221.1 1938.9,224.5 1941,224.5 1941,224.5 1944.4,224.5 1944.4,219.3 1946.3,219.3 1946.3,219.3 1948.2,219.3 1948.2,226.2 1950.5,226.2 1950.5,227.7"/><polygon fill="#FF00FF" points="1847,228.7 1847,196.6 1850.8,196.6 1850.8,195.5 1853,195.5 1853,181.6 1855.4,181.6 1855.4,185.9 1857.6,185.9 1857.6,190.8 1859.7,190.8 1859.7,183 1862,183 1862,179.4 1864.5,179.4 1864.5,186 1866.8,186 1866.8,185.3 1868.7,185.3 1868.7,187.7 1871,187.7 1871,190.2 1873.4,190.2 1873.4,191.7 1875.9,191.7 1875.9,193.3 1878.2,193.3 1878.2,194.5 1880.5,194.5 1880.5,195.1 1882.9,195.1 1882.9,200.3 1886.7,200.3 1886.7,196.7 1890,196.7 1890,201.2 1892.4,201.2 1892.4,200.3 1895.3,200.3 1895.3,203.5 1899.5,203.5 1899.5,209.6 1902.3,209.6 1902.3,211.2 1905.4,211.2 1905.4,212.1 1907.7,212.1 1907.7,212.5 1910.1,212.5 1910.1,218.7 1912.4,218.7 1912.4,218 1914.7,218 1914.7,218.7 1917.2,218.7 1917.2,220.6 1920,220.6 1920,221.3 1922.5,221.3 1922.5,215.9 1924.6,215.9 1924.6,213.9 1926.7,213.9 1926.7,219.2 1928.6,219.2 1928.6,226 1930.5,226 1930.5,226.3 1932.4,226.3 1932.4,223.7 1935.3,223.7 1935.3,224.5 1937.2,224.5 1937.2,224.4 1938.9,224.4 1938.9,226.1 1941,226.1 1941,226 1944.4,226 1944.4,223.7 1946.3,223.7 1946.3,223.6 1948.2,223.6 1948.2,226.9 1950.5,226.9 1950.5,228.7"/><polygon fill="#FF00FF" fill-opacity="0.35" points="1848.7,227.7 1848.7,333.5 1853,333.5 1853,332.5 1857.3,332.5 1857.3,321.3 1861.7,321.3 1861.7,321.3 1866,321.3 1866,322.9 1870.6,322.9 1870.6,321.3 1875,321.3 1875,321.3 1880.2,321.3 1880.2,311.6 1885,311.6 1885,303.7 1889.7,303.7 1889.7,286.5 1894.5,286.5 1894.5,286.5 1899.3,286.5 1899.3,296.6 1904.4,296.6 1904.4,296.6 1909.4,296.6 1909.4,286.5 1914.4,286.5 1914.4,254.8 1919.7,254.8 1919.7,254.8 1924.2,254.8 1924.2,240.9 1930,240.9 1930,240.9 1933.4,240.9 1933.4,249.8 1936.8,249.8 1936.8,236.4 1941.8,236.4 1941.8,236.4 1945.9,236.4 1945.9,232.3 1949.3,232.3 1949.3,230.8 1950.5,230.8 1950.5,227.7"/><polygon fill="#FF00FF" points="1848.7,226.7 1848.7,257.3 1853,257.3 1853,263.1 1857.3,263.1 1857.3,261.3 1861.7,261.3 1861.7,258.9 1866,258.9 1866,265.9 1870.6,265.9 1870.6,267.9 1875,267.9 1875,268.9 1880.2,268.9 1880.2,257.1 1885,257.1 1885,254.9 1889.7,254.9 1889.7,244.6 1894.5,244.6 1894.5,242.4 1899.3,242.4 1899.3,243.6 1904.4,243.6 1904.4,238.6 1909.4,238.6 1909.4,236.4 1914.4,236.4 1914.4,230.9 1919.7,230.9 1919.7,230.1 1924.2,230.1 1924.2,228.6 1930,228.6 1930,228.6 1933.4,228.6 1933.4,230.2 1936.8,230.2 1936.8,229.2 1941.8,229.2 1941.8,229.7 1945.9,229.7 1945.9,228.9 1949.3,228.9 1949.3,228.6 1950.5,228.6 1950.5,226.7"/><path fill="none" stroke="#FF00FF" stroke-width="2.6" d="M1847 156.2L1848.7 340.3M1850.8 169L1853 360.4M1853 227.7V138.2M1855.4 154.7L1857.3 339.2M1857.6 227.7V122.4M1859.7 160.4L1861.7 327.3M1862 227.7V139M1864.5 153.8L1866 329M1866.8 227.7V121.4M1868.7 165.2L1870.6 336.4M1871 227.7V121.4M1873.4 170.9L1875 327.3M1875.9 227.7V142.3M1878.2 175.6L1880.2 334M1880.5 227.7V160.4M1882.9 176.6L1885 317M1886.7 227.7V158.5M1890 175.6L1889.7 308.6M1892.4 180.8L1894.5 290.3M1895.3 227.7V177.5M1899.5 182.3L1899.3 301M1902.3 196.6L1904.4 302.2M1905.4 227.7V185.5M1907.7 195.6L1909.4 301M1910.1 227.7V185.5M1912.4 208L1914.4 290.3M1914.7 227.7V188.6M1917.2 227.7V207M1920 212.7L1919.7 256.5M1922.5 202.3L1924.2 296.5M1924.6 227.7V178.5M1926.7 227.7V197.5M1928.6 209L1930 241.7M1930.5 227.7V224.2M1932.4 219.4L1933.4 251.2M1935.3 215.6L1936.8 260.6M1937.2 227.7V220.4M1938.9 227.7V203.2M1941 224.2L1941.8 237M1944.4 208.4L1945.9 265.7M1946.3 227.7V218.4M1948.2 210.3L1949.3 232.6M1950.5 226L1950.5 231"/></g>
<polyline fill="none" stroke="#FF00FF" stroke-width="2.2" stroke-linejoin="round" stroke-linecap="round" points="1949.8,227.9 1951.7,231.5 1954.1,224.2 1955.9,230.9 1958.4,224.8 1960.8,232.7 1962.6,221.2 1964.4,218.7 1964.6,241.9 1966,222 1967.5,224.2 1970.5,229.7 1973.6,226 1976,229.1 1978.4,226.9 1982.7,228.1"/>
</g>
<g font-family="'Liberation Sans', Arial, Helvetica, sans-serif" fill="#262626" opacity="0.999" text-rendering="geometricPrecision">
<text transform="translate(325.4 610.8) scale(1 1.0)" font-size="20.83px" text-anchor="middle">0</text>
<text transform="translate(713 610.8) scale(1 1.0)" font-size="20.83px" text-anchor="middle">0.5</text>
<text transform="translate(1100.6 610.8) scale(1 1.0)" font-size="20.83px" text-anchor="middle">1</text>
<text transform="translate(1488.2 610.8) scale(1 1.0)" font-size="20.83px" text-anchor="middle">1.5</text>
<text transform="translate(1875.8 610.8) scale(1 1.0)" font-size="20.83px" text-anchor="middle">2</text>
<text transform="translate(2263.4 610.8) scale(1 1.0)" font-size="20.83px" text-anchor="middle">2.5</text>
<text transform="translate(317 55.9) scale(1 1.0)" font-size="20.83px" text-anchor="end">0.4</text>
<text transform="translate(317 145.2) scale(1 1.0)" font-size="20.83px" text-anchor="end">0.2</text>
<text transform="translate(317 234.6) scale(1 1.0)" font-size="20.83px" text-anchor="end">0</text>
<text transform="translate(317 323.9) scale(1 1.0)" font-size="20.83px" text-anchor="end">-0.2</text>
<text transform="translate(317 413.2) scale(1 1.0)" font-size="20.83px" text-anchor="end">-0.4</text>
<text transform="translate(317 502.6) scale(1 1.0)" font-size="20.83px" text-anchor="end">-0.6</text>
<text transform="translate(317 591.9) scale(1 1.0)" font-size="20.83px" text-anchor="end">-0.8</text>
<text transform="translate(1294.5 638.9) scale(1 1.0)" font-size="22.92px" text-anchor="middle">Time (s)</text>
<text transform="translate(268.4 317.3) rotate(-90) scale(1 1.0)" font-size="22.92px" text-anchor="middle">Amplitude</text>
<text transform="translate(1294 40.7) scale(1 1.0)" font-size="22.92px" text-anchor="middle" font-weight="bold" fill="#202020">Sentence JOH-001-179 (Colored by Word)</text>
</g></svg></body></html>
